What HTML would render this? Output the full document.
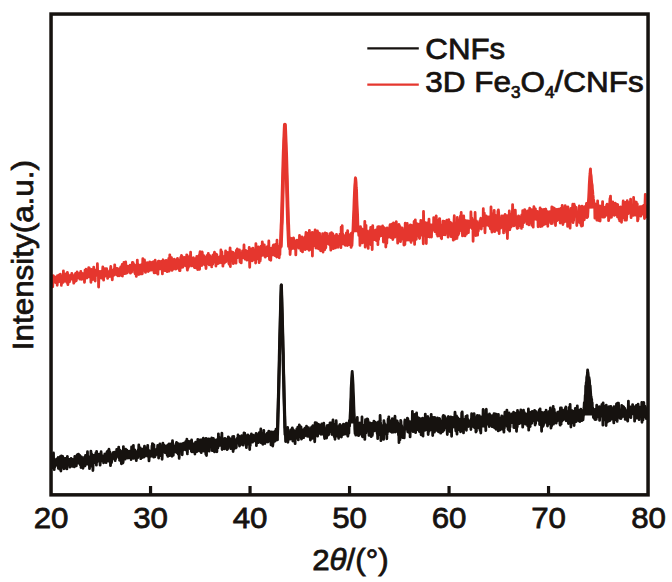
<!DOCTYPE html>
<html><head><meta charset="utf-8"><title>XRD</title>
<style>
html,body{margin:0;padding:0;background:#fff;}
body{width:672px;height:582px;overflow:hidden;}
svg{display:block;}
text{font-family:"Liberation Sans",sans-serif;fill:#16120f;stroke:#16120f;stroke-width:0.75px;}
</style></head><body>
<svg width="672" height="582" viewBox="0 0 672 582">
<rect width="672" height="582" fill="#ffffff"/>
<polyline points="280.7,247.3 280.8,245.4 280.9,243.4 281.0,241.2 281.1,238.8 281.2,236.3 281.3,233.6 281.4,230.9 281.5,227.9 281.6,224.9 281.8,221.8 281.9,218.5 282.0,215.2 282.1,211.7 282.2,208.2 282.3,204.6 282.4,201.0 282.5,197.3 282.6,193.5 282.7,189.8 282.8,186.0 282.9,182.3 283.0,178.5 283.1,174.8 283.2,171.1 283.3,167.4 283.4,163.8 283.5,160.3 283.6,156.9 283.7,153.5 283.8,150.3 284.0,147.1 284.1,144.1 284.2,141.2 284.3,138.4 284.4,135.8 284.5,133.3 284.6,130.9 284.7,128.7 284.8,126.6 284.9,124.7 285.0,126.6 285.1,128.7 285.2,130.9 285.3,133.3 285.4,135.8 285.5,138.4 285.6,141.2 285.7,144.1 285.8,147.1 285.9,150.3 286.1,153.5 286.2,156.9 286.3,160.3 286.4,163.8 286.5,167.4 286.6,171.1 286.7,174.8 286.8,178.5 286.9,182.3 287.0,186.0 287.1,189.8 287.2,193.5 287.3,197.3 287.4,201.0 287.5,204.6 287.6,208.2 287.7,211.7 287.8,215.2 287.9,218.5 288.0,221.8 288.2,224.9 288.3,227.9 288.4,230.9 288.5,233.6 288.6,236.3 288.7,238.8 288.8,241.2 288.9,243.4 289.0,245.4 289.1,247.3" fill="none" stroke="#e5362e" stroke-width="3.8" stroke-linejoin="round"/><polygon points="352.8,232.2 352.9,230.7 353.0,229.1 353.0,227.4 353.1,225.6 353.2,223.7 353.3,221.8 353.4,219.7 353.5,217.6 353.5,215.4 353.6,213.3 353.7,211.0 353.8,208.8 353.9,206.6 354.0,204.4 354.1,202.2 354.1,200.0 354.2,197.9 354.3,195.9 354.4,193.9 354.5,192.0 354.6,190.2 354.6,188.5 354.7,186.9 354.8,185.5 354.9,184.1 355.0,182.9 355.1,181.9 355.2,180.9 355.2,180.2 355.3,179.6 355.4,179.1 355.5,178.8 355.6,179.1 355.7,179.6 355.8,180.2 355.8,180.9 355.9,181.9 356.0,182.9 356.1,184.1 356.2,185.5 356.3,186.9 356.4,188.5 356.4,190.2 356.5,192.0 356.6,193.9 356.7,195.9 356.8,197.9 356.9,200.0 356.9,202.2 357.0,204.4 357.1,206.6 357.2,208.8 357.3,211.0 357.4,213.3 357.5,215.4 357.5,217.6 357.6,219.7 357.7,221.8 357.8,223.7 357.9,225.6 358.0,227.4 358.0,229.1 358.1,230.7 358.2,232.2" fill="#e5362e"/><polygon points="588.0,208.7 588.1,207.4 588.1,206.0 588.2,204.6 588.3,203.1 588.4,201.6 588.5,200.0 588.6,198.4 588.7,196.7 588.8,195.1 588.9,193.4 589.0,191.7 589.1,190.0 589.2,188.4 589.2,186.7 589.3,185.1 589.4,183.5 589.5,181.9 589.6,180.4 589.7,178.9 589.8,177.5 589.9,176.2 590.0,174.9 590.1,173.6 590.2,172.5 590.2,171.4 590.3,171.0 590.4,171.7 590.5,172.3 590.6,173.0 590.7,173.6 590.8,174.4 590.9,175.1 591.0,175.8 591.1,176.6 591.2,177.4 591.2,178.2 591.3,179.1 591.4,179.9 591.5,180.8 591.6,181.7 591.7,182.6 591.8,183.5 591.9,184.5 592.0,185.4 592.1,186.4 592.2,187.4 592.3,188.3 592.3,189.3 592.4,190.3 592.5,191.3 592.6,192.3 592.7,193.3 592.8,194.2 592.9,195.2 593.0,196.2 593.1,197.2 593.2,198.1 593.3,199.1 593.3,200.0 593.4,201.0 593.5,201.9 593.6,202.8 593.7,203.7 593.8,204.5 593.9,205.4 594.0,206.2 594.1,207.0 594.2,207.8 594.3,208.6" fill="#e5362e"/>
<path d="M52.0,278.8 L52.2,277.7 L52.5,285.4 L52.7,286.8 L53.0,281.0 L53.2,275.7 L53.5,279.5 L53.7,278.3 L54.0,281.6 L54.2,281.4 L54.5,280.3 L54.7,276.8 L55.0,280.1 L55.2,279.0 L55.5,277.6 L55.7,282.6 L56.0,278.3 L56.2,278.6 L56.5,279.3 L56.7,277.4 L57.0,276.6 L57.2,285.3 L57.5,275.6 L57.7,280.7 L58.0,279.9 L58.2,277.9 L58.4,278.8 L58.7,281.9 L58.9,278.2 L59.2,275.0 L59.4,276.6 L59.7,278.1 L59.9,274.6 L60.2,277.1 L60.4,274.1 L60.7,281.1 L60.9,279.5 L61.2,277.7 L61.4,285.4 L61.7,277.7 L61.9,279.3 L62.2,279.3 L62.4,279.2 L62.7,276.4 L62.9,280.4 L63.2,282.3 L63.4,270.9 L63.7,280.5 L63.9,275.6 L64.2,278.5 L64.4,280.9 L64.6,276.6 L64.9,281.2 L65.1,277.0 L65.4,276.7 L65.6,276.9 L65.9,273.9 L66.1,279.0 L66.4,275.5 L66.6,277.1 L66.9,282.5 L67.1,280.5 L67.4,272.4 L67.6,273.8 L67.9,284.6 L68.1,274.6 L68.4,278.5 L68.6,281.7 L68.9,277.9 L69.1,276.6 L69.4,281.9 L69.6,277.8 L69.9,275.9 L70.1,280.6 L70.4,278.6 L70.6,276.8 L70.8,275.2 L71.1,275.7 L71.3,277.6 L71.6,276.8 L71.8,273.3 L72.1,277.2 L72.3,275.6 L72.6,277.4 L72.8,278.6 L73.1,279.7 L73.3,277.5 L73.6,281.9 L73.8,283.2 L74.1,278.0 L74.3,277.3 L74.6,277.7 L74.8,274.7 L75.1,281.3 L75.3,279.3 L75.6,273.4 L75.8,280.8 L76.1,280.7 L76.3,280.5 L76.6,278.1 L76.8,273.9 L77.1,271.9 L77.3,276.5 L77.5,273.3 L77.8,274.6 L78.0,275.6 L78.3,273.4 L78.5,277.8 L78.8,274.2 L79.0,277.7 L79.3,275.8 L79.5,276.1 L79.8,279.1 L80.0,273.1 L80.3,277.5 L80.5,275.7 L80.8,271.3 L81.0,274.8 L81.3,276.7 L81.5,277.3 L81.8,279.3 L82.0,277.4 L82.3,273.3 L82.5,277.2 L82.8,278.0 L83.0,274.3 L83.3,274.1 L83.5,279.0 L83.7,278.0 L84.0,276.9 L84.2,277.0 L84.5,282.3 L84.7,277.7 L85.0,270.2 L85.2,270.9 L85.5,276.1 L85.7,274.0 L86.0,269.2 L86.2,275.5 L86.5,274.8 L86.7,277.3 L87.0,278.0 L87.2,271.7 L87.5,274.6 L87.7,273.1 L88.0,272.7 L88.2,270.2 L88.5,271.4 L88.7,267.6 L89.0,276.8 L89.2,267.9 L89.5,272.0 L89.7,276.2 L89.9,275.1 L90.2,273.2 L90.4,274.0 L90.7,273.1 L90.9,282.3 L91.2,278.3 L91.4,269.3 L91.7,275.6 L91.9,275.8 L92.2,279.7 L92.4,270.6 L92.7,273.2 L92.9,275.3 L93.2,273.4 L93.4,279.4 L93.7,267.2 L93.9,273.3 L94.2,270.3 L94.4,273.2 L94.7,277.4 L94.9,269.8 L95.2,281.0 L95.4,271.3 L95.7,276.0 L95.9,270.1 L96.1,271.7 L96.4,274.4 L96.6,274.5 L96.9,271.9 L97.1,273.3 L97.4,263.7 L97.6,270.4 L97.9,270.5 L98.1,272.3 L98.4,274.1 L98.6,287.1 L98.9,277.2 L99.1,273.7 L99.4,274.4 L99.6,273.7 L99.9,274.8 L100.1,271.4 L100.4,272.7 L100.6,277.0 L100.9,277.3 L101.1,276.4 L101.4,278.1 L101.6,271.6 L101.9,271.1 L102.1,275.9 L102.3,277.5 L102.6,270.3 L102.8,267.0 L103.1,268.7 L103.3,273.4 L103.6,280.2 L103.8,271.3 L104.1,272.9 L104.3,276.8 L104.6,271.7 L104.8,274.0 L105.1,268.7 L105.3,272.6 L105.6,273.5 L105.8,275.5 L106.1,275.2 L106.3,273.9 L106.6,268.6 L106.8,273.7 L107.1,273.4 L107.3,270.4 L107.6,278.4 L107.8,271.9 L108.1,272.8 L108.3,271.6 L108.5,275.4 L108.8,276.6 L109.0,276.6 L109.3,272.1 L109.5,273.0 L109.8,276.4 L110.0,274.3 L110.3,273.8 L110.5,268.9 L110.8,266.5 L111.0,270.9 L111.3,270.7 L111.5,275.8 L111.8,271.6 L112.0,276.7 L112.3,279.8 L112.5,271.9 L112.8,272.9 L113.0,270.9 L113.3,273.0 L113.5,269.8 L113.8,275.3 L114.0,271.1 L114.3,268.6 L114.5,272.7 L114.7,264.8 L115.0,270.5 L115.2,272.3 L115.5,272.6 L115.7,273.3 L116.0,268.1 L116.2,270.9 L116.5,274.9 L116.7,271.5 L117.0,269.6 L117.2,268.4 L117.5,273.4 L117.7,272.5 L118.0,275.8 L118.2,271.3 L118.5,271.9 L118.7,273.5 L119.0,269.0 L119.2,275.8 L119.5,268.7 L119.7,271.1 L120.0,269.4 L120.2,272.5 L120.5,268.0 L120.7,267.0 L120.9,272.5 L121.2,273.5 L121.4,267.0 L121.7,275.7 L121.9,268.4 L122.2,264.4 L122.4,276.1 L122.7,268.2 L122.9,273.5 L123.2,270.7 L123.4,270.0 L123.7,268.1 L123.9,262.5 L124.2,269.9 L124.4,266.0 L124.7,269.6 L124.9,273.6 L125.2,271.3 L125.4,269.4 L125.7,262.0 L125.9,267.3 L126.2,273.3 L126.4,272.1 L126.7,268.5 L126.9,270.6 L127.2,272.9 L127.4,269.7 L127.6,269.5 L127.9,266.2 L128.1,269.9 L128.4,271.1 L128.6,271.3 L128.9,266.8 L129.1,268.1 L129.4,269.4 L129.6,270.7 L129.9,268.6 L130.1,265.2 L130.4,273.2 L130.6,270.1 L130.9,267.2 L131.1,271.6 L131.4,271.9 L131.6,272.2 L131.9,268.2 L132.1,267.4 L132.4,262.5 L132.6,268.1 L132.9,266.1 L133.1,262.7 L133.4,268.4 L133.6,267.7 L133.8,265.6 L134.1,264.4 L134.3,265.6 L134.6,272.5 L134.8,266.7 L135.1,273.8 L135.3,269.8 L135.6,272.4 L135.8,265.7 L136.1,273.5 L136.3,276.4 L136.6,271.1 L136.8,267.5 L137.1,271.3 L137.3,260.1 L137.6,269.9 L137.8,264.5 L138.1,264.9 L138.3,271.6 L138.6,266.9 L138.8,274.5 L139.1,265.1 L139.3,268.7 L139.6,269.4 L139.8,271.3 L140.0,265.4 L140.3,273.8 L140.5,270.8 L140.8,271.3 L141.0,264.9 L141.3,267.2 L141.5,273.4 L141.8,271.9 L142.0,270.1 L142.3,273.8 L142.5,269.8 L142.8,258.7 L143.0,269.6 L143.3,270.2 L143.5,268.4 L143.8,265.2 L144.0,268.0 L144.3,267.8 L144.5,260.0 L144.8,269.5 L145.0,266.2 L145.3,271.3 L145.5,272.4 L145.8,264.7 L146.0,268.5 L146.2,270.2 L146.5,266.2 L146.7,268.6 L147.0,268.6 L147.2,262.6 L147.5,267.1 L147.7,265.5 L148.0,264.0 L148.2,271.5 L148.5,263.4 L148.7,263.6 L149.0,270.6 L149.2,265.0 L149.5,268.4 L149.7,261.8 L150.0,267.0 L150.2,266.3 L150.5,269.6 L150.7,267.6 L151.0,264.8 L151.2,270.2 L151.5,269.2 L151.7,267.6 L152.0,262.3 L152.2,269.8 L152.4,269.9 L152.7,266.7 L152.9,270.0 L153.2,262.4 L153.4,261.8 L153.7,265.7 L153.9,271.5 L154.2,272.9 L154.4,267.3 L154.7,263.4 L154.9,261.6 L155.2,260.2 L155.4,268.4 L155.7,271.8 L155.9,267.6 L156.2,265.8 L156.4,272.9 L156.7,272.2 L156.9,268.3 L157.2,269.0 L157.4,268.2 L157.7,263.4 L157.9,274.1 L158.2,261.6 L158.4,261.2 L158.6,268.1 L158.9,269.3 L159.1,261.1 L159.4,261.8 L159.6,262.4 L159.9,266.9 L160.1,268.9 L160.4,265.9 L160.6,263.3 L160.9,265.1 L161.1,261.4 L161.4,268.9 L161.6,267.4 L161.9,265.2 L162.1,266.4 L162.4,273.9 L162.6,265.2 L162.9,260.6 L163.1,259.8 L163.4,265.5 L163.6,267.9 L163.9,261.9 L164.1,263.4 L164.4,261.6 L164.6,269.7 L164.8,270.6 L165.1,260.8 L165.3,265.7 L165.6,264.6 L165.8,263.4 L166.1,260.5 L166.3,267.2 L166.6,268.9 L166.8,269.1 L167.1,271.7 L167.3,261.0 L167.6,266.4 L167.8,262.6 L168.1,261.5 L168.3,264.9 L168.6,261.1 L168.8,258.3 L169.1,271.2 L169.3,266.4 L169.6,262.6 L169.8,254.9 L170.1,262.0 L170.3,262.9 L170.6,264.4 L170.8,264.8 L171.0,266.6 L171.3,269.1 L171.5,257.6 L171.8,262.9 L172.0,270.4 L172.3,262.9 L172.5,262.7 L172.8,264.2 L173.0,262.9 L173.3,269.1 L173.5,262.5 L173.8,268.1 L174.0,262.7 L174.3,259.1 L174.5,262.4 L174.8,267.3 L175.0,259.8 L175.3,265.3 L175.5,264.8 L175.8,269.1 L176.0,268.4 L176.3,262.9 L176.5,264.7 L176.8,268.5 L177.0,259.5 L177.3,263.0 L177.5,258.4 L177.7,263.2 L178.0,265.9 L178.2,264.8 L178.5,259.8 L178.7,263.8 L179.0,260.9 L179.2,267.6 L179.5,270.7 L179.7,267.3 L180.0,270.6 L180.2,264.9 L180.5,262.9 L180.7,257.3 L181.0,266.7 L181.2,260.5 L181.5,255.4 L181.7,265.2 L182.0,267.3 L182.2,256.6 L182.5,259.6 L182.7,267.2 L183.0,266.4 L183.2,262.5 L183.5,258.6 L183.7,265.5 L183.9,263.9 L184.2,265.0 L184.4,257.3 L184.7,260.9 L184.9,265.1 L185.2,263.5 L185.4,260.2 L185.7,263.9 L185.9,265.9 L186.2,262.9 L186.4,264.5 L186.7,254.8 L186.9,254.9 L187.2,268.3 L187.4,270.2 L187.7,261.7 L187.9,268.7 L188.2,256.9 L188.4,259.3 L188.7,260.4 L188.9,260.1 L189.2,266.4 L189.4,261.2 L189.7,259.8 L189.9,255.9 L190.1,258.1 L190.4,260.8 L190.6,252.2 L190.9,264.9 L191.1,264.7 L191.4,260.9 L191.6,265.2 L191.9,265.9 L192.1,263.5 L192.4,263.1 L192.6,260.3 L192.9,263.3 L193.1,257.9 L193.4,257.8 L193.6,260.6 L193.9,262.1 L194.1,262.7 L194.4,267.5 L194.6,259.4 L194.9,259.9 L195.1,263.3 L195.4,262.8 L195.6,267.8 L195.9,258.6 L196.1,264.3 L196.3,258.1 L196.6,261.6 L196.8,256.4 L197.1,260.9 L197.3,264.2 L197.6,269.5 L197.8,261.5 L198.1,260.0 L198.3,261.9 L198.6,259.9 L198.8,259.7 L199.1,255.4 L199.3,266.2 L199.6,269.3 L199.8,253.7 L200.1,251.6 L200.3,255.3 L200.6,262.6 L200.8,256.9 L201.1,259.2 L201.3,259.8 L201.6,258.3 L201.8,265.5 L202.1,251.9 L202.3,252.5 L202.5,258.2 L202.8,261.6 L203.0,257.8 L203.3,260.0 L203.5,263.4 L203.8,255.6 L204.0,258.7 L204.3,261.7 L204.5,264.6 L204.8,264.8 L205.0,259.3 L205.3,257.5 L205.5,261.2 L205.8,260.1 L206.0,268.5 L206.3,263.6 L206.5,258.8 L206.8,260.0 L207.0,255.5 L207.3,263.6 L207.5,255.4 L207.8,256.8 L208.0,263.5 L208.3,253.4 L208.5,258.8 L208.7,263.9 L209.0,261.4 L209.2,264.9 L209.5,256.4 L209.7,259.1 L210.0,255.6 L210.2,263.1 L210.5,258.6 L210.7,262.8 L211.0,261.0 L211.2,257.2 L211.5,261.0 L211.7,266.9 L212.0,258.6 L212.2,262.1 L212.5,262.5 L212.7,264.1 L213.0,254.8 L213.2,254.9 L213.5,257.7 L213.7,257.8 L214.0,257.0 L214.2,254.1 L214.5,252.2 L214.7,262.3 L214.9,257.2 L215.2,255.8 L215.4,262.2 L215.7,258.1 L215.9,266.0 L216.2,263.6 L216.4,254.1 L216.7,256.8 L216.9,254.9 L217.2,261.0 L217.4,257.0 L217.7,259.3 L217.9,263.7 L218.2,262.1 L218.4,258.1 L218.7,257.5 L218.9,257.6 L219.2,260.7 L219.4,261.1 L219.7,262.3 L219.9,262.7 L220.2,256.3 L220.4,257.9 L220.7,258.1 L220.9,250.0 L221.1,255.9 L221.4,262.5 L221.6,261.6 L221.9,251.8 L222.1,255.8 L222.4,256.7 L222.6,256.6 L222.9,266.1 L223.1,257.9 L223.4,261.9 L223.6,256.7 L223.9,262.0 L224.1,262.8 L224.4,263.0 L224.6,257.5 L224.9,262.0 L225.1,256.6 L225.4,257.6 L225.6,250.9 L225.9,261.7 L226.1,255.0 L226.4,259.0 L226.6,258.5 L226.9,255.6 L227.1,259.6 L227.4,257.2 L227.6,252.3 L227.8,253.6 L228.1,253.1 L228.3,257.1 L228.6,257.1 L228.8,263.2 L229.1,264.2 L229.3,256.0 L229.6,256.4 L229.8,254.7 L230.1,247.8 L230.3,266.6 L230.6,255.9 L230.8,260.5 L231.1,254.1 L231.3,254.5 L231.6,257.9 L231.8,252.0 L232.1,253.8 L232.3,258.4 L232.6,253.6 L232.8,259.3 L233.1,252.5 L233.3,263.6 L233.6,253.1 L233.8,254.9 L234.0,255.4 L234.3,256.8 L234.5,255.9 L234.8,257.1 L235.0,256.2 L235.3,260.2 L235.5,256.4 L235.8,258.9 L236.0,263.1 L236.3,250.4 L236.5,257.0 L236.8,254.0 L237.0,251.4 L237.3,248.9 L237.5,257.3 L237.8,257.6 L238.0,252.0 L238.3,251.3 L238.5,254.3 L238.8,257.2 L239.0,256.6 L239.3,253.7 L239.5,250.0 L239.8,258.3 L240.0,262.0 L240.2,259.8 L240.5,255.0 L240.7,258.6 L241.0,256.7 L241.2,262.9 L241.5,256.6 L241.7,256.9 L242.0,257.8 L242.2,256.3 L242.5,250.8 L242.7,256.6 L243.0,255.9 L243.2,255.5 L243.5,256.8 L243.7,257.6 L244.0,245.0 L244.2,255.0 L244.5,254.8 L244.7,255.1 L245.0,259.2 L245.2,253.8 L245.5,256.3 L245.7,250.3 L246.0,252.0 L246.2,252.6 L246.4,257.3 L246.7,254.7 L246.9,260.1 L247.2,256.4 L247.4,259.8 L247.7,251.5 L247.9,252.7 L248.2,255.8 L248.4,254.7 L248.7,252.3 L248.9,253.8 L249.2,247.3 L249.4,254.5 L249.7,267.3 L249.9,257.7 L250.2,251.8 L250.4,252.4 L250.7,254.4 L250.9,253.4 L251.2,254.6 L251.4,253.3 L251.7,248.9 L251.9,252.7 L252.2,257.5 L252.4,260.8 L252.6,254.4 L252.9,248.1 L253.1,252.6 L253.4,250.3 L253.6,254.3 L253.9,254.4 L254.1,252.5 L254.4,259.2 L254.6,252.4 L254.9,251.1 L255.1,260.2 L255.4,250.3 L255.6,263.1 L255.9,243.6 L256.1,251.1 L256.4,247.9 L256.6,253.4 L256.9,258.9 L257.1,250.8 L257.4,258.8 L257.6,249.6 L257.9,249.7 L258.1,246.9 L258.4,246.9 L258.6,251.5 L258.8,257.1 L259.1,262.7 L259.3,248.0 L259.6,256.5 L259.8,254.4 L260.1,257.0 L260.3,260.7 L260.6,249.2 L260.8,256.7 L261.1,246.2 L261.3,255.8 L261.6,255.6 L261.8,251.1 L262.1,246.6 L262.3,241.9 L262.6,245.6 L262.8,252.7 L263.1,254.3 L263.3,254.7 L263.6,248.0 L263.8,253.0 L264.1,254.1 L264.3,244.9 L264.6,255.6 L264.8,256.3 L265.0,248.9 L265.3,257.1 L265.5,256.4 L265.8,253.1 L266.0,249.7 L266.3,249.9 L266.5,247.3 L266.8,251.7 L267.0,254.1 L267.3,246.7 L267.5,255.7 L267.8,246.3 L268.0,247.6 L268.3,252.7 L268.5,253.9 L268.8,241.0 L269.0,251.8 L269.3,255.4 L269.5,259.5 L269.8,249.6 L270.0,248.5 L270.3,254.9 L270.5,248.3 L270.8,260.3 L271.0,251.2 L271.2,248.1 L271.5,248.8 L271.7,248.1 L272.0,248.0 L272.2,253.1 L272.5,252.9 L272.7,252.1 L273.0,254.9 L273.2,245.4 L273.5,246.8 L273.7,244.9 L274.0,253.1 L274.2,251.3 L274.5,251.3 L274.7,251.4 L275.0,255.6 L275.2,253.4 L275.5,244.4 L275.7,253.1 L276.0,249.5 L276.2,253.1 L276.5,246.4 L276.7,257.0 L277.0,240.2 L277.2,249.8 L277.5,250.8 L277.7,250.2 L277.9,251.2 L278.2,252.9 L278.4,256.1 L278.7,252.7 L278.9,248.2 L279.2,257.8 L279.4,246.2 L279.7,247.9 L279.9,254.6 L280.2,243.5 L280.4,248.1 L280.7,246.2 L280.9,245.3 L281.2,234.6 L281.4,227.6 L281.7,224.5 L281.9,217.4 L282.2,208.9 L282.4,200.9 L282.7,191.1 L282.9,183.4 L283.2,173.1 L283.4,165.6 L283.7,157.2 L283.9,148.1 L284.1,140.9 L284.4,136.5 L284.6,129.2 L284.9,124.7 L285.1,130.3 L285.4,135.0 L285.6,141.0 L285.9,148.1 L286.1,157.1 L286.4,162.7 L286.6,172.2 L286.9,180.9 L287.1,190.8 L287.4,198.1 L287.6,205.8 L287.9,215.9 L288.1,223.7 L288.4,231.9 L288.6,235.8 L288.9,244.0 L289.1,237.2 L289.4,242.9 L289.6,249.3 L289.9,243.0 L290.1,254.5 L290.3,250.9 L290.6,249.6 L290.8,244.0 L291.1,246.4 L291.3,238.4 L291.6,248.6 L291.8,238.8 L292.1,244.2 L292.3,245.8 L292.6,248.3 L292.8,241.5 L293.1,247.2 L293.3,241.3 L293.6,238.0 L293.8,242.1 L294.1,239.6 L294.3,247.5 L294.6,248.7 L294.8,245.1 L295.1,247.1 L295.3,242.3 L295.6,247.8 L295.8,254.9 L296.1,242.4 L296.3,246.0 L296.5,244.9 L296.8,240.7 L297.0,240.1 L297.3,245.2 L297.5,243.2 L297.8,244.2 L298.0,243.3 L298.3,243.6 L298.5,241.3 L298.8,248.2 L299.0,244.1 L299.3,246.2 L299.5,235.5 L299.8,239.2 L300.0,238.1 L300.3,246.5 L300.5,243.9 L300.8,246.1 L301.0,250.7 L301.3,246.3 L301.5,237.4 L301.8,245.5 L302.0,237.0 L302.3,239.3 L302.5,251.9 L302.7,238.3 L303.0,248.4 L303.2,239.4 L303.5,243.2 L303.7,247.1 L304.0,247.7 L304.2,243.9 L304.5,246.4 L304.7,244.4 L305.0,236.8 L305.2,249.7 L305.5,248.3 L305.7,237.1 L306.0,232.3 L306.2,242.8 L306.5,243.0 L306.7,240.5 L307.0,241.4 L307.2,248.8 L307.5,240.9 L307.7,240.2 L308.0,248.3 L308.2,237.4 L308.5,233.0 L308.7,239.8 L308.9,249.4 L309.2,250.2 L309.4,230.3 L309.7,242.2 L309.9,242.1 L310.2,246.6 L310.4,238.7 L310.7,247.6 L310.9,243.3 L311.2,239.2 L311.4,241.2 L311.7,249.8 L311.9,243.2 L312.2,232.5 L312.4,256.0 L312.7,237.9 L312.9,243.9 L313.2,245.2 L313.4,238.7 L313.7,238.4 L313.9,245.7 L314.2,234.9 L314.4,232.5 L314.7,241.5 L314.9,241.1 L315.1,229.9 L315.4,243.4 L315.6,241.4 L315.9,247.9 L316.1,248.0 L316.4,240.7 L316.6,247.9 L316.9,237.3 L317.1,242.0 L317.4,230.8 L317.6,245.8 L317.9,242.6 L318.1,232.3 L318.4,242.5 L318.6,248.9 L318.9,245.3 L319.1,247.3 L319.4,242.8 L319.6,233.5 L319.9,241.2 L320.1,243.0 L320.4,236.5 L320.6,250.8 L320.9,242.8 L321.1,237.1 L321.3,249.3 L321.6,240.2 L321.8,244.6 L322.1,249.6 L322.3,242.7 L322.6,233.6 L322.8,251.0 L323.1,252.1 L323.3,237.6 L323.6,236.0 L323.8,241.4 L324.1,245.9 L324.3,242.2 L324.6,238.6 L324.8,249.6 L325.1,232.9 L325.3,234.1 L325.6,235.9 L325.8,247.8 L326.1,240.5 L326.3,243.3 L326.6,233.3 L326.8,244.0 L327.1,238.9 L327.3,240.1 L327.6,239.5 L327.8,238.3 L328.0,236.4 L328.3,237.4 L328.5,237.6 L328.8,235.9 L329.0,237.6 L329.3,244.2 L329.5,244.6 L329.8,233.6 L330.0,238.3 L330.3,239.8 L330.5,245.5 L330.8,250.1 L331.0,242.3 L331.3,239.2 L331.5,232.7 L331.8,237.4 L332.0,246.4 L332.3,239.4 L332.5,238.1 L332.8,233.7 L333.0,241.2 L333.3,248.6 L333.5,238.9 L333.8,237.7 L334.0,239.2 L334.2,235.8 L334.5,239.0 L334.7,239.0 L335.0,240.3 L335.2,245.0 L335.5,247.9 L335.7,239.2 L336.0,243.6 L336.2,242.4 L336.5,234.4 L336.7,243.0 L337.0,235.9 L337.2,244.7 L337.5,241.6 L337.7,238.6 L338.0,247.3 L338.2,236.5 L338.5,238.9 L338.7,241.7 L339.0,242.2 L339.2,244.4 L339.5,239.7 L339.7,241.5 L340.0,234.1 L340.2,241.6 L340.4,234.7 L340.7,238.0 L340.9,247.7 L341.2,227.1 L341.4,234.5 L341.7,241.8 L341.9,232.1 L342.2,225.7 L342.4,243.8 L342.7,233.8 L342.9,239.4 L343.2,239.3 L343.4,234.9 L343.7,239.6 L343.9,244.1 L344.2,238.5 L344.4,240.9 L344.7,237.8 L344.9,237.1 L345.2,245.3 L345.4,242.5 L345.7,238.5 L345.9,236.4 L346.2,239.9 L346.4,232.8 L346.6,235.8 L346.9,236.4 L347.1,237.6 L347.4,245.5 L347.6,230.7 L347.9,235.0 L348.1,238.2 L348.4,234.2 L348.6,237.8 L348.9,237.8 L349.1,244.5 L349.4,240.1 L349.6,238.6 L349.9,244.8 L350.1,237.0 L350.4,240.3 L350.6,241.8 L350.9,234.3 L351.1,247.4 L351.4,233.1 L351.6,239.0 L351.9,245.5 L352.1,243.3 L352.4,236.9 L352.6,231.7 L352.8,232.9 L353.1,225.8 L353.3,220.6 L353.6,212.7 L353.8,209.3 L354.1,200.3 L354.3,195.9 L354.6,188.6 L354.8,185.2 L355.1,182.1 L355.3,178.4 L355.5,177.8 L355.8,179.3 L356.1,182.7 L356.3,187.7 L356.6,190.2 L356.8,198.2 L357.1,205.4 L357.3,208.8 L357.6,214.9 L357.8,222.1 L358.1,230.4 L358.3,231.7 L358.6,232.7 L358.8,235.4 L359.0,230.2 L359.3,233.5 L359.5,227.9 L359.8,236.8 L360.0,245.4 L360.3,234.5 L360.5,226.6 L360.8,234.1 L361.0,237.4 L361.3,231.4 L361.5,242.7 L361.8,231.7 L362.0,228.9 L362.3,240.8 L362.5,242.8 L362.8,237.2 L363.0,231.1 L363.3,239.3 L363.5,232.6 L363.8,236.8 L364.0,237.5 L364.3,235.2 L364.5,237.1 L364.8,221.3 L365.0,235.9 L365.2,247.1 L365.5,243.7 L365.7,236.0 L366.0,225.3 L366.2,237.5 L366.5,231.2 L366.7,239.1 L367.0,234.2 L367.2,230.9 L367.5,234.0 L367.7,245.3 L368.0,234.5 L368.2,248.4 L368.5,233.3 L368.7,232.7 L369.0,244.0 L369.2,235.9 L369.5,243.0 L369.7,239.7 L370.0,230.4 L370.2,240.5 L370.5,238.0 L370.7,227.3 L371.0,244.8 L371.2,233.8 L371.4,232.1 L371.7,237.8 L371.9,234.2 L372.2,249.6 L372.4,234.8 L372.7,225.7 L372.9,229.7 L373.2,238.4 L373.4,238.9 L373.7,230.2 L373.9,237.7 L374.2,239.6 L374.4,236.4 L374.7,239.3 L374.9,230.9 L375.2,231.5 L375.4,238.1 L375.7,234.1 L375.9,236.0 L376.2,240.5 L376.4,229.7 L376.7,239.3 L376.9,240.4 L377.2,232.8 L377.4,234.8 L377.7,227.0 L377.9,244.7 L378.1,229.9 L378.4,235.6 L378.6,239.5 L378.9,226.6 L379.1,234.6 L379.4,231.0 L379.6,228.3 L379.9,236.3 L380.1,235.1 L380.4,227.0 L380.6,234.7 L380.9,230.1 L381.1,228.9 L381.4,227.4 L381.6,235.5 L381.9,234.5 L382.1,227.2 L382.4,235.6 L382.6,226.0 L382.9,233.2 L383.1,229.1 L383.4,242.0 L383.6,232.1 L383.9,235.3 L384.1,227.7 L384.3,230.3 L384.6,230.6 L384.8,237.6 L385.1,229.6 L385.3,239.0 L385.6,233.9 L385.8,247.0 L386.1,237.7 L386.3,228.5 L386.6,237.2 L386.8,243.3 L387.1,227.9 L387.3,228.9 L387.6,234.9 L387.8,236.8 L388.1,233.2 L388.3,231.2 L388.6,235.6 L388.8,237.0 L389.1,231.0 L389.3,233.5 L389.6,236.1 L389.8,226.5 L390.1,224.7 L390.3,232.0 L390.5,231.8 L390.8,237.5 L391.0,233.0 L391.3,233.5 L391.5,237.7 L391.8,224.2 L392.0,232.5 L392.3,228.5 L392.5,229.2 L392.8,239.5 L393.0,235.7 L393.3,233.3 L393.5,223.0 L393.8,225.8 L394.0,233.8 L394.3,230.6 L394.5,233.2 L394.8,237.2 L395.0,231.5 L395.3,232.4 L395.5,223.4 L395.8,234.7 L396.0,227.6 L396.3,221.7 L396.5,233.2 L396.7,233.7 L397.0,235.9 L397.2,234.9 L397.5,237.0 L397.7,243.1 L398.0,233.9 L398.2,232.2 L398.5,233.4 L398.7,229.2 L399.0,224.4 L399.2,229.7 L399.5,229.5 L399.7,231.1 L400.0,226.4 L400.2,232.2 L400.5,241.6 L400.7,235.4 L401.0,236.8 L401.2,235.3 L401.5,237.5 L401.7,234.6 L402.0,228.3 L402.2,228.0 L402.5,232.2 L402.7,231.2 L402.9,239.2 L403.2,235.0 L403.4,236.0 L403.7,236.0 L403.9,245.0 L404.2,241.9 L404.4,236.0 L404.7,233.2 L404.9,244.6 L405.2,223.2 L405.4,224.4 L405.7,226.2 L405.9,240.2 L406.2,230.2 L406.4,229.9 L406.7,225.9 L406.9,240.2 L407.2,223.3 L407.4,233.8 L407.7,228.1 L407.9,236.4 L408.2,232.2 L408.4,228.8 L408.7,228.5 L408.9,232.6 L409.1,240.2 L409.4,233.0 L409.6,235.6 L409.9,225.3 L410.1,237.2 L410.4,225.0 L410.6,232.0 L410.9,231.4 L411.1,242.4 L411.4,229.0 L411.6,225.4 L411.9,234.5 L412.1,232.3 L412.4,236.1 L412.6,237.7 L412.9,240.1 L413.1,236.1 L413.4,235.1 L413.6,231.6 L413.9,233.6 L414.1,221.4 L414.4,231.8 L414.6,244.4 L414.9,232.6 L415.1,229.3 L415.3,219.8 L415.6,225.3 L415.8,236.3 L416.1,230.8 L416.3,239.3 L416.6,223.4 L416.8,235.4 L417.1,235.7 L417.3,228.0 L417.6,229.7 L417.8,235.4 L418.1,229.9 L418.3,234.0 L418.6,229.7 L418.8,224.2 L419.1,229.1 L419.3,237.3 L419.6,238.5 L419.8,227.9 L420.1,231.1 L420.3,230.4 L420.6,229.9 L420.8,220.4 L421.1,226.2 L421.3,228.8 L421.5,225.8 L421.8,232.5 L422.0,224.4 L422.3,235.5 L422.5,224.7 L422.8,230.5 L423.0,234.9 L423.3,243.8 L423.5,211.4 L423.8,225.5 L424.0,222.4 L424.3,235.4 L424.5,224.4 L424.8,228.1 L425.0,222.5 L425.3,223.9 L425.5,222.7 L425.8,235.1 L426.0,223.7 L426.3,243.5 L426.5,233.7 L426.8,229.4 L427.0,233.8 L427.3,236.1 L427.5,229.6 L427.8,222.6 L428.0,236.7 L428.2,226.5 L428.5,234.0 L428.7,231.6 L429.0,219.1 L429.2,232.8 L429.5,229.1 L429.7,237.0 L430.0,233.6 L430.2,234.8 L430.5,234.3 L430.7,225.0 L431.0,231.4 L431.2,230.3 L431.5,237.0 L431.7,226.6 L432.0,229.9 L432.2,230.4 L432.5,224.6 L432.7,228.7 L433.0,228.1 L433.2,229.5 L433.5,229.3 L433.7,217.6 L434.0,229.9 L434.2,226.3 L434.4,230.0 L434.7,228.7 L434.9,231.6 L435.2,231.5 L435.4,227.9 L435.7,227.7 L435.9,217.4 L436.2,215.9 L436.4,219.5 L436.7,219.7 L436.9,234.3 L437.2,232.1 L437.4,226.0 L437.7,236.2 L437.9,227.9 L438.2,223.4 L438.4,224.7 L438.7,225.2 L438.9,234.9 L439.2,235.6 L439.4,218.7 L439.7,218.7 L439.9,235.3 L440.2,232.0 L440.4,234.7 L440.6,233.4 L440.9,224.9 L441.1,237.9 L441.4,228.2 L441.6,238.8 L441.9,229.0 L442.1,227.3 L442.4,230.3 L442.6,232.7 L442.9,221.2 L443.1,230.0 L443.4,234.7 L443.6,222.2 L443.9,221.3 L444.1,225.9 L444.4,233.0 L444.6,231.5 L444.9,221.6 L445.1,234.9 L445.4,230.5 L445.6,225.1 L445.9,232.0 L446.1,225.7 L446.4,227.5 L446.6,230.0 L446.8,220.2 L447.1,224.6 L447.3,229.1 L447.6,225.7 L447.8,226.2 L448.1,237.1 L448.3,232.2 L448.6,225.6 L448.8,219.6 L449.1,227.9 L449.3,226.4 L449.6,227.6 L449.8,223.6 L450.1,225.4 L450.3,228.2 L450.6,222.3 L450.8,231.9 L451.1,236.6 L451.3,233.4 L451.6,231.0 L451.8,232.8 L452.1,225.8 L452.3,229.3 L452.6,223.7 L452.8,225.6 L453.0,235.6 L453.3,240.2 L453.5,227.2 L453.8,231.3 L454.0,221.6 L454.3,215.7 L454.5,227.6 L454.8,233.1 L455.0,239.0 L455.3,238.9 L455.5,222.9 L455.8,230.5 L456.0,233.9 L456.3,232.9 L456.5,226.8 L456.8,232.5 L457.0,238.4 L457.3,217.4 L457.5,221.0 L457.8,228.6 L458.0,235.1 L458.3,233.7 L458.5,226.3 L458.8,233.6 L459.0,226.8 L459.2,228.9 L459.5,222.0 L459.7,227.2 L460.0,228.3 L460.2,219.5 L460.5,215.8 L460.7,228.4 L461.0,228.0 L461.2,212.5 L461.5,231.1 L461.7,222.1 L462.0,223.1 L462.2,228.9 L462.5,235.9 L462.7,224.3 L463.0,233.1 L463.2,226.4 L463.5,228.1 L463.7,216.0 L464.0,231.9 L464.2,219.7 L464.5,220.3 L464.7,228.6 L465.0,235.9 L465.2,226.1 L465.4,220.3 L465.7,231.9 L465.9,226.2 L466.2,227.0 L466.4,234.2 L466.7,223.6 L466.9,229.2 L467.2,220.8 L467.4,225.4 L467.7,229.3 L467.9,226.7 L468.2,221.0 L468.4,232.7 L468.7,225.8 L468.9,221.5 L469.2,223.0 L469.4,222.4 L469.7,223.4 L469.9,225.3 L470.2,223.0 L470.4,226.2 L470.7,227.4 L470.9,211.9 L471.2,218.7 L471.4,224.8 L471.6,224.3 L471.9,218.1 L472.1,223.4 L472.4,228.8 L472.6,221.4 L472.9,221.8 L473.1,241.3 L473.4,221.3 L473.6,235.8 L473.9,227.6 L474.1,220.0 L474.4,230.4 L474.6,226.0 L474.9,224.4 L475.1,212.5 L475.4,222.0 L475.6,226.4 L475.9,235.6 L476.1,222.7 L476.4,220.9 L476.6,221.5 L476.9,228.0 L477.1,226.9 L477.4,224.1 L477.6,235.2 L477.9,225.3 L478.1,223.0 L478.3,231.1 L478.6,228.7 L478.8,225.0 L479.1,223.7 L479.3,227.7 L479.6,227.4 L479.8,220.9 L480.1,227.8 L480.3,224.4 L480.6,219.0 L480.8,218.3 L481.1,221.2 L481.3,229.0 L481.6,225.0 L481.8,219.9 L482.1,224.4 L482.3,220.0 L482.6,225.6 L482.8,222.4 L483.1,221.2 L483.3,208.7 L483.6,225.1 L483.8,224.1 L484.1,223.2 L484.3,213.1 L484.5,223.4 L484.8,227.7 L485.0,232.8 L485.3,216.5 L485.5,221.9 L485.8,217.1 L486.0,218.9 L486.3,215.9 L486.5,225.1 L486.8,223.0 L487.0,217.4 L487.3,217.2 L487.5,225.1 L487.8,221.0 L488.0,219.2 L488.3,221.7 L488.5,221.2 L488.8,217.0 L489.0,217.5 L489.3,226.2 L489.5,219.7 L489.8,216.6 L490.0,221.6 L490.3,228.0 L490.5,228.8 L490.7,227.2 L491.0,206.9 L491.2,212.2 L491.5,226.0 L491.7,229.9 L492.0,232.1 L492.2,218.8 L492.5,223.1 L492.7,215.1 L493.0,229.2 L493.2,221.9 L493.5,213.7 L493.7,230.6 L494.0,230.1 L494.2,210.4 L494.5,222.1 L494.7,231.7 L495.0,227.5 L495.2,215.2 L495.5,224.5 L495.7,225.1 L496.0,224.7 L496.2,219.4 L496.5,219.0 L496.7,227.2 L496.9,224.6 L497.2,218.9 L497.4,230.4 L497.7,226.0 L497.9,211.2 L498.2,220.4 L498.4,209.9 L498.7,213.2 L498.9,225.3 L499.2,233.6 L499.4,218.0 L499.7,227.7 L499.9,227.8 L500.2,227.6 L500.4,221.3 L500.7,228.1 L500.9,227.5 L501.2,227.2 L501.4,225.7 L501.7,215.8 L501.9,217.6 L502.2,225.0 L502.4,220.0 L502.7,223.8 L502.9,219.4 L503.1,216.0 L503.4,225.1 L503.6,232.9 L503.9,224.4 L504.1,216.5 L504.4,219.8 L504.6,221.9 L504.9,215.9 L505.1,214.4 L505.4,222.2 L505.6,222.2 L505.9,227.1 L506.1,221.6 L506.4,226.7 L506.6,232.5 L506.9,222.6 L507.1,215.6 L507.4,238.5 L507.6,230.0 L507.9,218.5 L508.1,228.0 L508.4,222.4 L508.6,217.1 L508.9,226.4 L509.1,223.5 L509.3,211.0 L509.6,220.0 L509.8,229.8 L510.1,218.9 L510.3,213.9 L510.6,226.6 L510.8,223.6 L511.1,227.0 L511.3,221.5 L511.6,218.5 L511.8,219.4 L512.1,220.6 L512.3,216.7 L512.6,204.6 L512.8,209.4 L513.1,225.5 L513.3,223.2 L513.6,218.8 L513.8,225.9 L514.1,210.9 L514.3,210.6 L514.6,218.6 L514.8,224.9 L515.1,220.5 L515.3,210.1 L515.5,215.6 L515.8,216.1 L516.0,223.8 L516.3,218.7 L516.5,222.7 L516.8,226.4 L517.0,227.2 L517.3,228.5 L517.5,223.7 L517.8,219.9 L518.0,218.9 L518.3,227.9 L518.5,215.9 L518.8,226.5 L519.0,216.5 L519.3,216.6 L519.5,223.6 L519.8,217.1 L520.0,222.6 L520.3,219.5 L520.5,220.4 L520.8,225.2 L521.0,220.6 L521.3,220.8 L521.5,228.4 L521.7,214.9 L522.0,217.9 L522.2,219.0 L522.5,226.9 L522.7,210.6 L523.0,215.9 L523.2,219.5 L523.5,218.4 L523.7,216.6 L524.0,222.5 L524.2,216.6 L524.5,220.5 L524.7,209.6 L525.0,216.7 L525.2,217.6 L525.5,215.5 L525.7,211.8 L526.0,221.0 L526.2,214.5 L526.5,221.6 L526.7,220.1 L527.0,223.9 L527.2,219.6 L527.5,210.9 L527.7,221.0 L528.0,221.8 L528.2,211.1 L528.4,220.9 L528.7,213.7 L528.9,224.9 L529.2,217.7 L529.4,212.1 L529.7,208.2 L529.9,213.9 L530.2,214.8 L530.4,216.1 L530.7,222.4 L530.9,220.5 L531.2,215.5 L531.4,209.6 L531.7,221.1 L531.9,225.4 L532.2,212.8 L532.4,215.3 L532.7,211.1 L532.9,215.6 L533.2,227.2 L533.4,214.7 L533.7,216.3 L533.9,206.7 L534.2,209.4 L534.4,208.9 L534.6,219.0 L534.9,212.5 L535.1,209.5 L535.4,208.7 L535.6,213.7 L535.9,213.3 L536.1,219.3 L536.4,213.7 L536.6,214.1 L536.9,215.4 L537.1,219.0 L537.4,211.5 L537.6,215.6 L537.9,216.8 L538.1,226.8 L538.4,217.9 L538.6,225.5 L538.9,212.3 L539.1,217.3 L539.4,215.5 L539.6,215.1 L539.9,219.2 L540.1,207.9 L540.4,226.6 L540.6,218.7 L540.8,215.1 L541.1,209.1 L541.3,211.0 L541.6,218.4 L541.8,210.7 L542.1,226.2 L542.3,212.1 L542.6,219.1 L542.8,214.1 L543.1,209.6 L543.3,217.0 L543.6,224.5 L543.8,222.8 L544.1,216.9 L544.3,209.3 L544.6,219.3 L544.8,214.3 L545.1,224.0 L545.3,215.2 L545.6,209.4 L545.8,209.1 L546.1,215.7 L546.3,223.6 L546.6,214.7 L546.8,219.0 L547.0,214.0 L547.3,218.8 L547.5,211.7 L547.8,226.3 L548.0,212.3 L548.3,223.3 L548.5,218.2 L548.8,220.9 L549.0,218.4 L549.3,216.5 L549.5,218.7 L549.8,211.7 L550.0,216.4 L550.3,221.2 L550.5,213.7 L550.8,219.7 L551.0,216.5 L551.3,223.6 L551.5,222.1 L551.8,207.0 L552.0,217.1 L552.3,216.9 L552.5,223.4 L552.8,207.5 L553.0,210.3 L553.2,218.8 L553.5,214.3 L553.7,207.8 L554.0,211.0 L554.2,208.2 L554.5,208.6 L554.7,217.4 L555.0,214.8 L555.2,216.5 L555.5,225.5 L555.7,218.2 L556.0,216.6 L556.2,211.6 L556.5,214.4 L556.7,209.5 L557.0,220.6 L557.2,214.0 L557.5,214.7 L557.7,211.4 L558.0,215.4 L558.2,212.6 L558.5,209.1 L558.7,219.5 L559.0,212.7 L559.2,217.4 L559.4,219.0 L559.7,210.3 L559.9,211.2 L560.2,223.0 L560.4,213.1 L560.7,208.4 L560.9,211.9 L561.2,222.1 L561.4,216.3 L561.7,210.7 L561.9,218.2 L562.2,205.3 L562.4,211.6 L562.7,218.1 L562.9,224.5 L563.2,215.3 L563.4,207.6 L563.7,216.2 L563.9,222.2 L564.2,216.6 L564.4,218.1 L564.7,215.5 L564.9,219.9 L565.2,205.6 L565.4,210.1 L565.6,221.4 L565.9,213.8 L566.1,207.3 L566.4,221.3 L566.6,215.1 L566.9,215.2 L567.1,208.4 L567.4,210.3 L567.6,226.4 L567.9,206.8 L568.1,211.6 L568.4,215.2 L568.6,215.8 L568.9,210.7 L569.1,221.6 L569.4,214.7 L569.6,216.2 L569.9,223.4 L570.1,228.2 L570.4,216.8 L570.6,217.3 L570.9,208.3 L571.1,215.5 L571.4,210.9 L571.6,211.4 L571.8,214.2 L572.1,210.2 L572.3,214.1 L572.6,206.5 L572.8,204.2 L573.1,222.7 L573.3,212.7 L573.6,220.8 L573.8,214.2 L574.1,204.2 L574.3,216.3 L574.6,205.6 L574.8,212.1 L575.1,211.4 L575.3,209.2 L575.6,215.1 L575.8,215.0 L576.1,207.3 L576.3,212.8 L576.6,218.4 L576.8,225.5 L577.1,214.7 L577.3,212.8 L577.6,220.4 L577.8,211.9 L578.1,220.0 L578.3,216.8 L578.5,218.4 L578.8,212.4 L579.0,211.3 L579.3,206.0 L579.5,222.5 L579.8,219.9 L580.0,213.9 L580.3,218.2 L580.5,209.9 L580.8,214.1 L581.0,225.0 L581.3,207.0 L581.5,226.2 L581.8,213.1 L582.0,206.2 L582.3,214.8 L582.5,225.6 L582.8,213.8 L583.0,209.5 L583.3,207.4 L583.5,213.7 L583.8,210.0 L584.0,208.3 L584.3,219.8 L584.5,206.7 L584.7,216.4 L585.0,213.2 L585.2,209.9 L585.5,216.2 L585.7,217.0 L586.0,208.1 L586.2,207.4 L586.5,203.4 L586.7,203.4 L587.0,217.7 L587.2,208.2 L587.5,217.1 L587.7,216.5 L588.0,211.5 L588.2,203.2 L588.5,199.5 L588.7,196.5 L589.0,190.5 L589.2,185.3 L589.5,180.2 L589.7,176.9 L590.0,174.0 L590.3,169.8 L590.5,168.8 L590.7,173.6 L590.9,174.6 L591.2,176.3 L591.4,179.0 L591.7,182.8 L591.9,183.7 L592.2,185.3 L592.4,188.8 L592.7,191.7 L592.9,194.7 L593.2,196.8 L593.4,198.9 L593.7,200.5 L593.9,202.9 L594.2,203.6 L594.4,203.0 L594.7,207.9 L594.9,218.1 L595.2,212.7 L595.4,210.9 L595.7,206.4 L595.9,204.4 L596.2,210.3 L596.4,204.9 L596.7,211.5 L596.9,220.1 L597.1,220.0 L597.4,219.2 L597.6,200.9 L597.9,211.7 L598.1,212.2 L598.4,210.1 L598.6,220.5 L598.9,211.4 L599.1,220.7 L599.4,209.6 L599.6,207.3 L599.9,205.8 L600.1,221.0 L600.4,211.0 L600.6,206.6 L600.9,214.2 L601.1,207.8 L601.4,206.5 L601.6,214.4 L601.9,208.4 L602.1,210.4 L602.4,206.4 L602.6,201.6 L602.9,217.2 L603.1,208.4 L603.3,206.7 L603.6,213.9 L603.8,209.8 L604.1,210.9 L604.3,217.2 L604.6,216.2 L604.8,216.7 L605.1,208.9 L605.3,207.1 L605.6,209.9 L605.8,209.0 L606.1,215.2 L606.3,215.2 L606.6,205.1 L606.8,210.8 L607.1,204.1 L607.3,205.7 L607.6,210.4 L607.8,206.9 L608.1,213.1 L608.3,207.7 L608.6,220.7 L608.8,208.4 L609.1,218.7 L609.3,218.2 L609.5,209.4 L609.8,201.5 L610.0,198.3 L610.3,206.8 L610.5,196.1 L610.8,208.3 L611.0,206.2 L611.3,207.4 L611.5,217.3 L611.8,205.4 L612.0,213.9 L612.3,208.2 L612.5,209.3 L612.8,202.0 L613.0,207.8 L613.3,206.6 L613.5,211.4 L613.8,209.5 L614.0,212.6 L614.3,215.3 L614.5,212.7 L614.8,203.4 L615.0,214.9 L615.3,203.2 L615.5,204.7 L615.7,207.8 L616.0,208.6 L616.2,211.1 L616.5,208.9 L616.7,210.0 L617.0,211.4 L617.2,204.3 L617.5,216.9 L617.7,204.6 L618.0,209.3 L618.2,210.2 L618.5,211.8 L618.7,207.3 L619.0,219.0 L619.2,207.4 L619.5,210.1 L619.7,220.9 L620.0,213.2 L620.2,214.9 L620.5,208.1 L620.7,206.8 L621.0,213.9 L621.2,214.0 L621.5,222.3 L621.7,213.9 L621.9,215.6 L622.2,215.0 L622.4,208.5 L622.7,214.0 L622.9,208.0 L623.2,201.0 L623.4,208.7 L623.7,208.5 L623.9,209.0 L624.2,218.1 L624.4,205.7 L624.7,210.3 L624.9,220.2 L625.2,206.6 L625.4,202.3 L625.7,212.9 L625.9,209.0 L626.2,216.0 L626.4,220.0 L626.7,216.9 L626.9,213.0 L627.2,200.7 L627.4,205.5 L627.7,205.3 L627.9,206.9 L628.2,213.7 L628.4,210.5 L628.6,210.8 L628.9,210.9 L629.1,209.4 L629.4,208.5 L629.6,211.8 L629.9,202.0 L630.1,212.3 L630.4,211.8 L630.6,199.2 L630.9,212.6 L631.1,217.7 L631.4,207.7 L631.6,206.1 L631.9,212.0 L632.1,215.2 L632.4,208.2 L632.6,209.2 L632.9,206.8 L633.1,209.3 L633.4,215.4 L633.6,197.5 L633.9,206.4 L634.1,208.4 L634.4,201.3 L634.6,209.0 L634.8,207.2 L635.1,209.2 L635.3,206.4 L635.6,215.2 L635.8,213.7 L636.1,206.5 L636.3,202.1 L636.6,207.9 L636.8,206.3 L637.1,214.6 L637.3,204.0 L637.6,220.9 L637.8,210.8 L638.1,219.5 L638.3,211.4 L638.6,207.5 L638.8,214.8 L639.1,211.5 L639.3,208.7 L639.6,211.3 L639.8,208.1 L640.1,206.7 L640.3,207.5 L640.6,212.2 L640.8,216.2 L641.0,214.9 L641.3,207.5 L641.5,211.5 L641.8,209.5 L642.0,211.4 L642.3,212.9 L642.5,206.2 L642.8,206.1 L643.0,210.8 L643.3,214.1 L643.5,211.4 L643.8,211.6 L644.0,205.2 L644.3,213.6 L644.5,218.5 L644.8,212.0 L645.0,204.9 L645.3,194.4 L645.5,208.8 L645.8,211.0 L646.0,216.9 L646.3,215.5 L646.5,213.3 L646.8,206.1 L647.0,208.8" fill="none" stroke="#e5362e" stroke-width="2.8" stroke-linejoin="round" stroke-linecap="round"/>
<polyline points="277.4,435.3 277.5,432.1 277.6,428.8 277.7,425.4 277.8,422.0 277.9,418.5 278.0,414.9 278.1,411.3 278.2,407.6 278.3,403.9 278.4,400.1 278.5,396.2 278.6,392.3 278.7,388.4 278.8,384.4 278.9,380.5 279.0,376.4 279.1,372.4 279.2,368.3 279.3,364.2 279.4,360.2 279.4,356.1 279.5,352.0 279.6,347.9 279.7,343.9 279.8,339.9 279.9,335.9 280.0,331.9 280.1,328.0 280.2,324.1 280.3,320.2 280.4,316.5 280.5,312.7 280.6,309.0 280.7,305.4 280.8,301.8 280.9,298.3 281.0,294.9 281.1,291.5 281.2,288.2 281.3,285.0 281.4,288.2 281.5,291.5 281.6,294.9 281.7,298.3 281.8,301.8 281.9,305.4 282.0,309.0 282.1,312.7 282.2,316.5 282.3,320.2 282.4,324.1 282.5,328.0 282.6,331.9 282.7,335.9 282.8,339.9 282.9,343.9 283.0,347.9 283.1,352.0 283.2,356.1 283.2,360.2 283.3,364.2 283.4,368.3 283.5,372.4 283.6,376.4 283.7,380.5 283.8,384.4 283.9,388.4 284.0,392.3 284.1,396.2 284.2,400.1 284.3,403.9 284.4,407.6 284.5,411.3 284.6,414.9 284.7,418.5 284.8,422.0 284.9,425.4 285.0,428.8 285.1,432.1 285.2,435.3" fill="none" stroke="#16120f" stroke-width="3.2" stroke-linejoin="round"/><polygon points="349.8,423.6 349.9,422.2 349.9,420.6 350.0,419.0 350.1,417.3 350.2,415.5 350.2,413.6 350.3,411.7 350.4,409.7 350.5,407.6 350.6,405.6 350.6,403.5 350.7,401.4 350.8,399.3 350.8,397.2 350.9,395.1 351.0,393.0 351.1,391.0 351.1,389.1 351.2,387.2 351.3,385.4 351.4,383.7 351.4,382.1 351.5,380.6 351.6,379.1 351.7,377.8 351.8,376.7 351.8,375.6 351.9,374.7 352.0,373.9 352.1,373.3 352.1,372.8 352.2,372.4 352.3,372.8 352.3,373.3 352.4,373.9 352.5,374.7 352.6,375.6 352.6,376.7 352.7,377.8 352.8,379.1 352.9,380.6 352.9,382.1 353.0,383.7 353.1,385.4 353.2,387.2 353.2,389.1 353.3,391.0 353.4,393.0 353.5,395.1 353.6,397.2 353.6,399.3 353.7,401.4 353.8,403.5 353.8,405.6 353.9,407.6 354.0,409.7 354.1,411.7 354.1,413.6 354.2,415.5 354.3,417.3 354.4,419.0 354.4,420.6 354.5,422.2 354.6,423.6" fill="#16120f"/><polygon points="583.4,415.6 583.5,414.8 583.7,413.8 583.8,412.8 583.9,411.7 584.0,410.5 584.2,409.2 584.3,407.8 584.4,406.4 584.6,405.0 584.7,403.4 584.8,401.9 585.0,400.3 585.1,398.6 585.2,397.0 585.4,395.3 585.5,393.6 585.6,391.9 585.7,390.2 585.9,388.5 586.0,386.9 586.1,385.2 586.3,383.7 586.4,382.1 586.5,380.6 586.6,379.2 586.8,377.9 586.9,376.6 587.0,375.3 587.2,374.2 587.3,373.1 587.4,372.2 587.6,371.3 587.7,371.4 587.8,372.0 588.0,372.7 588.1,373.3 588.2,374.1 588.3,374.8 588.5,375.6 588.6,376.4 588.7,377.3 588.9,378.2 589.0,379.1 589.1,380.1 589.2,381.1 589.4,382.1 589.5,383.1 589.6,384.2 589.8,385.2 589.9,386.3 590.0,387.5 590.2,388.6 590.3,389.7 590.4,390.8 590.6,392.0 590.7,393.1 590.8,394.3 590.9,395.4 591.1,396.6 591.2,397.7 591.3,398.8 591.5,400.0 591.6,401.1 591.7,402.1 591.9,403.2 592.0,404.2 592.1,405.3 592.2,406.2 592.4,407.2 592.5,408.2 592.6,409.1 592.8,409.9 592.9,410.8 593.0,411.6 593.2,412.3 593.3,413.1 593.4,413.8 593.5,414.4 593.7,415.1 593.8,415.6" fill="#16120f"/>
<path d="M52.0,466.6 L52.2,457.5 L52.5,465.9 L52.7,467.9 L53.0,465.2 L53.2,465.4 L53.5,453.0 L53.7,464.7 L54.0,463.4 L54.2,469.6 L54.5,464.3 L54.7,460.3 L55.0,466.8 L55.2,460.5 L55.5,461.0 L55.7,461.1 L56.0,463.2 L56.2,459.4 L56.5,459.1 L56.7,465.0 L57.0,464.8 L57.2,463.2 L57.5,462.2 L57.7,461.7 L58.0,461.4 L58.2,457.5 L58.4,468.4 L58.7,465.3 L58.9,465.1 L59.2,465.0 L59.4,459.8 L59.7,469.2 L59.9,464.2 L60.2,464.4 L60.4,456.4 L60.7,462.9 L60.9,471.0 L61.2,465.3 L61.4,456.0 L61.7,466.4 L61.9,460.9 L62.2,465.8 L62.4,456.6 L62.7,456.5 L62.9,460.7 L63.2,459.5 L63.4,463.4 L63.7,463.3 L63.9,468.8 L64.2,460.8 L64.4,466.6 L64.6,463.6 L64.9,458.4 L65.1,465.2 L65.4,468.2 L65.6,460.5 L65.9,458.4 L66.1,466.9 L66.4,458.9 L66.6,465.6 L66.9,468.9 L67.1,461.7 L67.4,456.3 L67.6,463.6 L67.9,462.1 L68.1,463.0 L68.4,463.9 L68.6,462.8 L68.9,463.7 L69.1,462.7 L69.4,459.4 L69.6,463.7 L69.9,467.1 L70.1,459.6 L70.4,463.9 L70.6,462.9 L70.8,463.2 L71.1,458.5 L71.3,462.3 L71.6,461.6 L71.8,464.7 L72.1,465.7 L72.3,466.3 L72.6,459.7 L72.8,463.7 L73.1,460.7 L73.3,460.6 L73.6,463.2 L73.8,459.5 L74.1,465.5 L74.3,466.9 L74.6,465.8 L74.8,456.3 L75.1,460.5 L75.3,459.7 L75.6,460.5 L75.8,462.3 L76.1,460.9 L76.3,465.9 L76.6,460.3 L76.8,463.0 L77.1,454.9 L77.3,462.2 L77.5,459.8 L77.8,463.2 L78.0,459.7 L78.3,457.1 L78.5,454.1 L78.8,459.8 L79.0,462.3 L79.3,463.3 L79.5,461.8 L79.8,455.3 L80.0,463.6 L80.3,464.8 L80.5,460.6 L80.8,458.5 L81.0,467.5 L81.3,463.3 L81.5,456.8 L81.8,458.8 L82.0,458.6 L82.3,463.7 L82.5,461.1 L82.8,460.6 L83.0,468.3 L83.3,459.1 L83.5,460.5 L83.7,464.7 L84.0,463.0 L84.2,466.2 L84.5,457.1 L84.7,461.1 L85.0,465.9 L85.2,461.6 L85.5,455.3 L85.7,463.8 L86.0,456.4 L86.2,457.6 L86.5,464.1 L86.7,463.3 L87.0,458.7 L87.2,459.7 L87.5,451.7 L87.7,464.2 L88.0,456.9 L88.2,461.8 L88.5,462.4 L88.7,461.1 L89.0,464.1 L89.2,457.1 L89.5,468.7 L89.7,457.3 L89.9,458.5 L90.2,458.4 L90.4,460.5 L90.7,465.3 L90.9,451.2 L91.2,453.7 L91.4,460.0 L91.7,459.1 L91.9,454.4 L92.2,466.6 L92.4,456.1 L92.7,457.9 L92.9,470.5 L93.2,462.6 L93.4,462.0 L93.7,463.0 L93.9,461.2 L94.2,458.3 L94.4,455.1 L94.7,460.4 L94.9,456.6 L95.2,458.7 L95.4,460.3 L95.7,460.0 L95.9,452.9 L96.1,455.7 L96.4,465.2 L96.6,451.4 L96.9,456.8 L97.1,462.1 L97.4,459.2 L97.6,458.7 L97.9,458.1 L98.1,457.0 L98.4,459.8 L98.6,455.9 L98.9,456.1 L99.1,454.1 L99.4,456.6 L99.6,461.2 L99.9,458.1 L100.1,465.2 L100.4,460.8 L100.6,459.8 L100.9,457.4 L101.1,451.7 L101.4,458.4 L101.6,455.8 L101.9,460.5 L102.1,460.8 L102.3,458.8 L102.6,456.0 L102.8,457.7 L103.1,461.6 L103.3,459.9 L103.6,462.8 L103.8,457.7 L104.1,456.9 L104.3,459.8 L104.6,460.4 L104.8,454.0 L105.1,455.4 L105.3,460.6 L105.6,459.6 L105.8,453.7 L106.1,462.7 L106.3,453.9 L106.6,459.3 L106.8,455.1 L107.1,451.6 L107.3,460.1 L107.6,454.9 L107.8,451.3 L108.1,450.8 L108.3,461.0 L108.5,460.6 L108.8,450.7 L109.0,449.2 L109.3,454.9 L109.5,456.4 L109.8,451.7 L110.0,456.5 L110.3,456.9 L110.5,465.7 L110.8,461.0 L111.0,461.6 L111.3,455.0 L111.5,462.7 L111.8,460.0 L112.0,455.1 L112.3,457.6 L112.5,459.0 L112.8,455.9 L113.0,452.7 L113.3,456.1 L113.5,456.5 L113.8,456.2 L114.0,453.3 L114.3,456.0 L114.5,452.2 L114.7,456.8 L115.0,455.5 L115.2,460.7 L115.5,454.9 L115.7,458.9 L116.0,456.7 L116.2,454.3 L116.5,456.1 L116.7,449.3 L117.0,452.4 L117.2,452.0 L117.5,452.1 L117.7,456.3 L118.0,450.0 L118.2,453.7 L118.5,454.7 L118.7,447.1 L119.0,457.9 L119.2,450.4 L119.5,460.3 L119.7,449.9 L120.0,451.1 L120.2,457.1 L120.5,457.9 L120.7,452.3 L120.9,455.9 L121.2,460.0 L121.4,463.8 L121.7,454.1 L121.9,457.0 L122.2,455.3 L122.4,451.4 L122.7,450.6 L122.9,463.0 L123.2,461.7 L123.4,446.6 L123.7,456.8 L123.9,457.8 L124.2,457.3 L124.4,454.9 L124.7,450.5 L124.9,451.3 L125.2,459.1 L125.4,450.1 L125.7,449.1 L125.9,451.2 L126.2,454.4 L126.4,452.1 L126.7,450.8 L126.9,450.2 L127.2,457.8 L127.4,458.0 L127.6,452.0 L127.9,458.1 L128.1,457.4 L128.4,452.5 L128.6,451.7 L128.9,456.5 L129.1,457.0 L129.4,451.1 L129.6,452.0 L129.9,457.6 L130.1,453.2 L130.4,455.9 L130.6,457.4 L130.9,457.4 L131.1,459.5 L131.4,454.9 L131.6,446.8 L131.9,454.4 L132.1,457.4 L132.4,456.4 L132.6,456.7 L132.9,453.4 L133.1,456.6 L133.4,445.5 L133.6,458.4 L133.8,454.9 L134.1,455.2 L134.3,454.0 L134.6,450.6 L134.8,449.9 L135.1,455.7 L135.3,450.9 L135.6,452.5 L135.8,458.5 L136.1,453.7 L136.3,460.7 L136.6,452.0 L136.8,456.9 L137.1,454.2 L137.3,457.4 L137.6,457.9 L137.8,452.5 L138.1,453.8 L138.3,449.6 L138.6,451.3 L138.8,445.0 L139.1,449.9 L139.3,453.9 L139.6,456.0 L139.8,451.7 L140.0,455.5 L140.3,447.8 L140.5,456.4 L140.8,458.7 L141.0,455.4 L141.3,452.1 L141.5,454.1 L141.8,450.0 L142.0,457.7 L142.3,449.4 L142.5,450.7 L142.8,453.0 L143.0,449.6 L143.3,450.1 L143.5,448.6 L143.8,457.2 L144.0,450.7 L144.3,448.5 L144.5,446.1 L144.8,449.6 L145.0,456.2 L145.3,451.9 L145.5,448.7 L145.8,450.8 L146.0,453.3 L146.2,453.7 L146.5,450.3 L146.7,454.8 L147.0,451.5 L147.2,447.5 L147.5,456.2 L147.7,445.4 L148.0,451.1 L148.2,453.2 L148.5,449.8 L148.7,453.1 L149.0,460.9 L149.2,457.6 L149.5,450.9 L149.7,454.6 L150.0,454.5 L150.2,453.6 L150.5,456.3 L150.7,454.7 L151.0,452.6 L151.2,452.3 L151.5,452.6 L151.7,452.3 L152.0,445.8 L152.2,456.2 L152.4,443.6 L152.7,452.5 L152.9,452.3 L153.2,451.6 L153.4,446.9 L153.7,457.2 L153.9,444.8 L154.2,456.5 L154.4,450.4 L154.7,452.0 L154.9,456.8 L155.2,451.0 L155.4,455.7 L155.7,451.5 L155.9,449.6 L156.2,451.3 L156.4,454.4 L156.7,450.9 L156.9,449.6 L157.2,450.3 L157.4,449.3 L157.7,445.4 L157.9,448.4 L158.2,446.2 L158.4,446.6 L158.6,458.1 L158.9,452.5 L159.1,455.1 L159.4,450.1 L159.6,450.0 L159.9,443.9 L160.1,449.6 L160.4,452.2 L160.6,450.5 L160.9,450.8 L161.1,455.8 L161.4,453.8 L161.6,452.6 L161.9,448.8 L162.1,459.3 L162.4,452.3 L162.6,447.2 L162.9,443.2 L163.1,444.7 L163.4,447.3 L163.6,449.5 L163.9,444.9 L164.1,449.5 L164.4,449.9 L164.6,449.5 L164.8,445.8 L165.1,452.6 L165.3,447.5 L165.6,450.4 L165.8,446.3 L166.1,449.5 L166.3,445.9 L166.6,450.7 L166.8,452.3 L167.1,454.8 L167.3,450.4 L167.6,453.8 L167.8,456.4 L168.1,444.8 L168.3,444.7 L168.6,448.7 L168.8,452.5 L169.1,444.0 L169.3,445.5 L169.6,455.6 L169.8,450.7 L170.1,446.5 L170.3,452.0 L170.6,449.4 L170.8,447.4 L171.0,443.8 L171.3,451.8 L171.5,454.7 L171.8,443.4 L172.0,456.3 L172.3,447.5 L172.5,440.7 L172.8,447.0 L173.0,443.8 L173.3,455.3 L173.5,447.0 L173.8,452.0 L174.0,445.9 L174.3,451.5 L174.5,450.8 L174.8,448.9 L175.0,451.7 L175.3,451.9 L175.5,447.1 L175.8,451.8 L176.0,451.3 L176.3,443.8 L176.5,442.4 L176.8,443.8 L177.0,449.3 L177.3,452.9 L177.5,443.6 L177.7,445.0 L178.0,448.3 L178.2,454.2 L178.5,443.7 L178.7,445.6 L179.0,447.7 L179.2,458.4 L179.5,444.3 L179.7,448.7 L180.0,447.9 L180.2,446.6 L180.5,450.3 L180.7,449.9 L181.0,444.0 L181.2,448.0 L181.5,445.8 L181.7,448.6 L182.0,444.8 L182.2,454.8 L182.5,447.0 L182.7,448.1 L183.0,450.2 L183.2,443.3 L183.5,445.0 L183.7,444.1 L183.9,446.4 L184.2,446.8 L184.4,445.4 L184.7,442.7 L184.9,444.0 L185.2,445.7 L185.4,449.8 L185.7,448.6 L185.9,441.4 L186.2,447.2 L186.4,443.8 L186.7,441.8 L186.9,439.1 L187.2,451.4 L187.4,453.9 L187.7,440.9 L187.9,441.1 L188.2,445.4 L188.4,445.9 L188.7,445.7 L188.9,443.3 L189.2,443.3 L189.4,444.3 L189.7,446.3 L189.9,446.5 L190.1,448.5 L190.4,441.2 L190.6,447.3 L190.9,445.6 L191.1,445.8 L191.4,451.3 L191.6,440.0 L191.9,445.1 L192.1,451.9 L192.4,448.7 L192.6,448.0 L192.9,445.9 L193.1,451.6 L193.4,446.0 L193.6,443.9 L193.9,444.0 L194.1,444.4 L194.4,447.4 L194.6,450.3 L194.9,454.0 L195.1,449.9 L195.4,444.2 L195.6,442.1 L195.9,442.9 L196.1,447.5 L196.3,445.4 L196.6,443.2 L196.8,451.6 L197.1,444.8 L197.3,443.4 L197.6,444.3 L197.8,439.3 L198.1,447.6 L198.3,443.4 L198.6,441.8 L198.8,444.1 L199.1,450.2 L199.3,451.0 L199.6,442.7 L199.8,444.7 L200.1,439.8 L200.3,445.5 L200.6,450.3 L200.8,445.5 L201.1,439.9 L201.3,452.7 L201.6,449.6 L201.8,447.9 L202.1,445.8 L202.3,447.0 L202.5,447.5 L202.8,441.8 L203.0,439.2 L203.3,438.2 L203.5,447.6 L203.8,444.7 L204.0,451.1 L204.3,447.9 L204.5,443.5 L204.8,442.0 L205.0,447.0 L205.3,442.1 L205.5,441.4 L205.8,454.3 L206.0,438.3 L206.3,447.6 L206.5,455.5 L206.8,441.4 L207.0,441.6 L207.3,445.6 L207.5,444.0 L207.8,441.3 L208.0,445.4 L208.3,438.9 L208.5,450.5 L208.7,447.5 L209.0,445.1 L209.2,451.1 L209.5,439.2 L209.7,440.2 L210.0,443.7 L210.2,443.0 L210.5,446.4 L210.7,444.5 L211.0,441.4 L211.2,441.3 L211.5,439.1 L211.7,437.9 L212.0,445.8 L212.2,450.7 L212.5,440.7 L212.7,446.5 L213.0,450.6 L213.2,442.0 L213.5,438.5 L213.7,441.5 L214.0,449.2 L214.2,446.0 L214.5,451.9 L214.7,446.0 L214.9,443.4 L215.2,442.7 L215.4,447.0 L215.7,440.8 L215.9,446.0 L216.2,439.9 L216.4,443.0 L216.7,442.0 L216.9,451.8 L217.2,441.4 L217.4,445.1 L217.7,439.5 L217.9,447.8 L218.2,443.7 L218.4,433.8 L218.7,444.9 L218.9,440.0 L219.2,445.6 L219.4,445.2 L219.7,440.3 L219.9,441.3 L220.2,437.8 L220.4,444.1 L220.7,445.3 L220.9,442.7 L221.1,440.5 L221.4,441.5 L221.6,437.6 L221.9,433.1 L222.1,449.5 L222.4,440.5 L222.6,438.3 L222.9,443.0 L223.1,448.7 L223.4,439.1 L223.6,445.4 L223.9,444.2 L224.1,442.1 L224.4,448.8 L224.6,445.9 L224.9,438.3 L225.1,445.0 L225.4,445.6 L225.6,441.8 L225.9,439.3 L226.1,439.7 L226.4,445.4 L226.6,442.6 L226.9,439.4 L227.1,449.7 L227.4,440.7 L227.6,438.7 L227.8,448.8 L228.1,442.9 L228.3,436.8 L228.6,438.1 L228.8,437.4 L229.1,437.7 L229.3,439.0 L229.6,442.8 L229.8,438.7 L230.1,440.5 L230.3,442.7 L230.6,446.6 L230.8,448.6 L231.1,448.4 L231.3,440.6 L231.6,442.1 L231.8,444.6 L232.1,438.9 L232.3,441.6 L232.6,436.6 L232.8,443.9 L233.1,451.5 L233.3,445.6 L233.6,449.6 L233.8,436.4 L234.0,448.0 L234.3,444.2 L234.5,445.1 L234.8,441.0 L235.0,439.7 L235.3,443.4 L235.5,440.2 L235.8,448.0 L236.0,445.3 L236.3,447.4 L236.5,441.5 L236.8,439.3 L237.0,438.5 L237.3,440.0 L237.5,443.0 L237.8,443.0 L238.0,435.0 L238.3,439.5 L238.5,443.2 L238.8,441.9 L239.0,436.2 L239.3,441.5 L239.5,446.0 L239.8,436.5 L240.0,442.2 L240.2,443.9 L240.5,439.6 L240.7,436.8 L241.0,444.3 L241.2,444.4 L241.5,439.1 L241.7,435.7 L242.0,438.7 L242.2,442.4 L242.5,438.9 L242.7,442.1 L243.0,437.2 L243.2,445.2 L243.5,442.2 L243.7,442.1 L244.0,432.9 L244.2,438.3 L244.5,436.4 L244.7,433.1 L245.0,438.7 L245.2,438.7 L245.5,437.9 L245.7,435.4 L246.0,442.1 L246.2,444.3 L246.4,447.6 L246.7,441.5 L246.9,444.1 L247.2,441.8 L247.4,439.5 L247.7,442.8 L247.9,435.0 L248.2,437.2 L248.4,435.7 L248.7,444.1 L248.9,438.0 L249.2,439.2 L249.4,440.2 L249.7,449.5 L249.9,436.1 L250.2,445.7 L250.4,437.3 L250.7,438.8 L250.9,439.0 L251.2,441.8 L251.4,434.0 L251.7,437.8 L251.9,440.3 L252.2,440.2 L252.4,437.3 L252.6,442.2 L252.9,436.0 L253.1,440.8 L253.4,435.2 L253.6,436.9 L253.9,437.6 L254.1,440.6 L254.4,437.1 L254.6,437.0 L254.9,440.3 L255.1,436.6 L255.4,436.9 L255.6,438.4 L255.9,441.9 L256.1,433.3 L256.4,445.7 L256.6,435.3 L256.9,435.9 L257.1,435.7 L257.4,440.6 L257.6,438.1 L257.9,434.3 L258.1,436.6 L258.4,442.6 L258.6,439.7 L258.8,439.4 L259.1,432.8 L259.3,436.4 L259.6,432.3 L259.8,439.3 L260.1,438.4 L260.3,437.9 L260.6,433.5 L260.8,429.0 L261.1,442.8 L261.3,441.5 L261.6,433.3 L261.8,436.7 L262.1,439.6 L262.3,442.0 L262.6,437.1 L262.8,444.3 L263.1,442.0 L263.3,437.1 L263.6,438.3 L263.8,430.3 L264.1,438.8 L264.3,437.7 L264.6,441.9 L264.8,434.3 L265.0,443.5 L265.3,435.4 L265.5,439.0 L265.8,440.7 L266.0,441.0 L266.3,434.9 L266.5,438.3 L266.8,438.7 L267.0,441.6 L267.3,433.1 L267.5,433.6 L267.8,442.0 L268.0,438.0 L268.3,433.8 L268.5,438.6 L268.8,431.1 L269.0,432.5 L269.3,440.1 L269.5,432.0 L269.8,439.7 L270.0,441.1 L270.3,438.9 L270.5,432.0 L270.8,432.6 L271.0,444.9 L271.2,440.8 L271.5,438.0 L271.7,431.9 L272.0,438.0 L272.2,433.7 L272.5,432.2 L272.7,446.1 L273.0,443.7 L273.2,441.5 L273.5,435.4 L273.7,438.0 L274.0,435.3 L274.2,441.5 L274.5,431.7 L274.7,433.6 L275.0,438.0 L275.2,441.0 L275.5,432.9 L275.7,436.4 L276.0,429.1 L276.2,437.6 L276.5,429.9 L276.7,431.2 L277.0,436.4 L277.2,439.8 L277.5,439.9 L277.7,424.9 L277.9,414.3 L278.2,407.1 L278.4,396.5 L278.7,387.6 L278.9,376.6 L279.2,366.9 L279.4,355.9 L279.7,347.5 L279.9,336.6 L280.2,327.2 L280.4,315.3 L280.7,308.0 L280.9,296.8 L281.2,290.0 L281.3,285.0 L281.7,297.9 L281.9,306.6 L282.2,315.4 L282.4,327.1 L282.7,335.7 L282.9,347.3 L283.2,354.6 L283.4,367.1 L283.7,376.0 L283.9,386.5 L284.1,397.3 L284.4,406.8 L284.6,413.9 L284.9,427.7 L285.1,428.4 L285.4,435.3 L285.6,441.5 L285.9,430.4 L286.1,438.5 L286.4,435.5 L286.6,438.5 L286.9,438.4 L287.1,431.3 L287.4,436.5 L287.6,427.4 L287.9,442.3 L288.1,436.7 L288.4,436.2 L288.6,438.4 L288.9,437.7 L289.1,432.2 L289.4,433.2 L289.6,433.5 L289.9,437.2 L290.1,439.2 L290.3,433.1 L290.6,429.8 L290.8,433.6 L291.1,438.4 L291.3,430.8 L291.6,436.7 L291.8,432.0 L292.1,430.8 L292.3,427.9 L292.6,430.9 L292.8,441.0 L293.1,430.1 L293.3,429.7 L293.6,435.7 L293.8,440.7 L294.1,436.3 L294.3,434.1 L294.6,430.8 L294.8,440.6 L295.1,443.7 L295.3,431.9 L295.6,434.8 L295.8,434.7 L296.1,434.4 L296.3,432.2 L296.5,436.3 L296.8,428.9 L297.0,429.9 L297.3,433.3 L297.5,438.3 L297.8,427.1 L298.0,427.1 L298.3,439.9 L298.5,429.5 L298.8,434.0 L299.0,426.8 L299.3,424.9 L299.5,432.3 L299.8,436.7 L300.0,431.0 L300.3,430.5 L300.5,437.0 L300.8,431.3 L301.0,426.8 L301.3,437.8 L301.5,439.1 L301.8,436.2 L302.0,437.9 L302.3,437.0 L302.5,431.6 L302.7,435.1 L303.0,433.7 L303.2,437.7 L303.5,429.7 L303.7,437.6 L304.0,431.4 L304.2,436.2 L304.5,428.7 L304.7,431.1 L305.0,431.0 L305.2,427.8 L305.5,435.5 L305.7,429.1 L306.0,428.6 L306.2,434.2 L306.5,426.2 L306.7,433.2 L307.0,431.8 L307.2,430.8 L307.5,436.3 L307.7,435.4 L308.0,432.7 L308.2,435.7 L308.5,427.6 L308.7,433.4 L308.9,429.2 L309.2,430.8 L309.4,431.5 L309.7,437.2 L309.9,431.2 L310.2,431.3 L310.4,440.0 L310.7,429.6 L310.9,431.6 L311.2,434.1 L311.4,427.8 L311.7,426.9 L311.9,437.5 L312.2,438.4 L312.4,426.9 L312.7,429.6 L312.9,425.7 L313.2,428.3 L313.4,435.4 L313.7,431.2 L313.9,425.6 L314.2,433.5 L314.4,432.3 L314.7,441.8 L314.9,435.6 L315.1,422.7 L315.4,435.5 L315.6,434.5 L315.9,433.7 L316.1,430.4 L316.4,422.9 L316.6,435.1 L316.9,428.7 L317.1,433.4 L317.4,430.0 L317.6,436.1 L317.9,424.2 L318.1,433.4 L318.4,432.5 L318.6,424.3 L318.9,430.8 L319.1,424.6 L319.4,429.8 L319.6,431.0 L319.9,427.9 L320.1,431.5 L320.4,433.7 L320.6,425.2 L320.9,434.3 L321.1,431.4 L321.3,427.0 L321.6,432.8 L321.8,424.0 L322.1,430.6 L322.3,434.0 L322.6,434.0 L322.8,428.7 L323.1,431.0 L323.3,431.8 L323.6,432.7 L323.8,423.2 L324.1,429.7 L324.3,434.8 L324.6,438.5 L324.8,436.1 L325.1,429.7 L325.3,431.5 L325.6,431.0 L325.8,430.8 L326.1,430.3 L326.3,430.9 L326.6,438.0 L326.8,427.6 L327.1,425.7 L327.3,432.1 L327.6,425.6 L327.8,432.4 L328.0,432.2 L328.3,435.0 L328.5,433.7 L328.8,434.4 L329.0,425.2 L329.3,426.6 L329.5,427.8 L329.8,429.1 L330.0,422.8 L330.3,427.2 L330.5,429.8 L330.8,427.3 L331.0,422.8 L331.3,432.1 L331.5,432.0 L331.8,425.6 L332.0,434.5 L332.3,429.5 L332.5,430.1 L332.8,423.7 L333.0,419.8 L333.3,431.0 L333.5,433.2 L333.8,431.0 L334.0,429.5 L334.2,436.7 L334.5,424.5 L334.7,431.7 L335.0,439.3 L335.2,426.3 L335.5,434.2 L335.7,433.1 L336.0,427.3 L336.2,420.7 L336.5,430.1 L336.7,429.7 L337.0,436.2 L337.2,429.6 L337.5,430.2 L337.7,426.6 L338.0,427.5 L338.2,431.9 L338.5,435.5 L338.7,438.4 L339.0,428.3 L339.2,431.0 L339.5,425.7 L339.7,424.7 L340.0,424.5 L340.2,435.5 L340.4,434.3 L340.7,430.9 L340.9,428.0 L341.2,427.5 L341.4,437.0 L341.7,428.2 L341.9,425.9 L342.2,429.3 L342.4,434.8 L342.7,431.1 L342.9,434.6 L343.2,432.1 L343.4,424.2 L343.7,430.9 L343.9,429.0 L344.2,432.6 L344.4,430.0 L344.7,427.6 L344.9,434.1 L345.2,428.6 L345.4,431.2 L345.7,431.2 L345.9,423.8 L346.2,429.1 L346.4,423.1 L346.6,431.8 L346.9,431.1 L347.1,428.8 L347.4,426.5 L347.6,435.4 L347.9,436.1 L348.1,434.1 L348.4,427.9 L348.6,426.2 L348.9,433.2 L349.1,422.7 L349.4,420.3 L349.6,426.1 L349.9,420.4 L350.1,415.7 L350.4,410.6 L350.6,402.0 L350.9,397.1 L351.1,388.7 L351.4,383.4 L351.6,378.6 L351.9,374.8 L352.2,371.4 L352.4,373.6 L352.6,376.0 L352.8,379.8 L353.1,384.9 L353.3,390.9 L353.6,397.4 L353.8,404.6 L354.1,412.3 L354.3,415.3 L354.6,422.2 L354.8,429.1 L355.1,433.6 L355.3,427.4 L355.6,431.3 L355.8,435.1 L356.1,427.5 L356.3,429.9 L356.6,432.7 L356.8,431.0 L357.1,434.8 L357.3,417.5 L357.6,435.1 L357.8,424.0 L358.1,433.7 L358.3,426.2 L358.6,435.6 L358.8,428.1 L359.0,428.3 L359.3,432.4 L359.5,423.2 L359.8,423.0 L360.0,434.1 L360.3,431.3 L360.5,426.5 L360.8,431.7 L361.0,431.4 L361.3,430.0 L361.5,429.7 L361.8,428.9 L362.0,417.0 L362.3,435.9 L362.5,436.8 L362.8,428.9 L363.0,428.2 L363.3,432.2 L363.5,432.4 L363.8,425.3 L364.0,429.7 L364.3,429.7 L364.5,433.1 L364.8,439.4 L365.0,432.4 L365.2,426.7 L365.5,419.6 L365.7,428.6 L366.0,432.9 L366.2,429.1 L366.5,430.6 L366.7,420.4 L367.0,423.1 L367.2,418.9 L367.5,428.3 L367.7,419.1 L368.0,420.7 L368.2,423.2 L368.5,431.7 L368.7,424.9 L369.0,435.4 L369.2,432.8 L369.5,435.1 L369.7,428.1 L370.0,422.9 L370.2,424.1 L370.5,425.4 L370.7,432.0 L371.0,427.9 L371.2,436.7 L371.4,428.7 L371.7,429.3 L371.9,423.3 L372.2,428.6 L372.4,435.4 L372.7,426.6 L372.9,427.2 L373.2,429.6 L373.4,427.8 L373.7,425.4 L373.9,421.1 L374.2,423.0 L374.4,429.8 L374.7,430.8 L374.9,430.5 L375.2,422.2 L375.4,425.2 L375.7,422.6 L375.9,422.9 L376.2,429.3 L376.4,427.2 L376.7,427.9 L376.9,426.7 L377.2,433.6 L377.4,430.7 L377.7,438.7 L377.9,429.5 L378.1,424.0 L378.4,421.8 L378.6,434.7 L378.9,432.2 L379.1,422.6 L379.4,422.3 L379.6,427.6 L379.9,427.5 L380.1,415.3 L380.4,421.9 L380.6,423.0 L380.9,440.7 L381.1,429.1 L381.4,427.0 L381.6,430.3 L381.9,429.4 L382.1,425.9 L382.4,428.3 L382.6,428.5 L382.9,436.0 L383.1,430.9 L383.4,425.0 L383.6,439.4 L383.9,420.7 L384.1,422.9 L384.3,422.7 L384.6,433.6 L384.8,429.7 L385.1,424.3 L385.3,429.5 L385.6,428.1 L385.8,430.3 L386.1,434.3 L386.3,433.2 L386.6,431.5 L386.8,438.8 L387.1,425.5 L387.3,433.9 L387.6,427.8 L387.8,430.9 L388.1,419.1 L388.3,422.0 L388.6,425.7 L388.8,416.9 L389.1,430.9 L389.3,424.9 L389.6,431.1 L389.8,422.9 L390.1,420.7 L390.3,423.1 L390.5,425.6 L390.8,422.8 L391.0,427.7 L391.3,431.8 L391.5,421.0 L391.8,432.3 L392.0,429.9 L392.3,418.6 L392.5,424.3 L392.8,429.3 L393.0,429.6 L393.3,426.5 L393.5,432.2 L393.8,431.2 L394.0,429.7 L394.3,422.2 L394.5,424.9 L394.8,418.8 L395.0,416.2 L395.3,432.0 L395.5,428.6 L395.8,431.7 L396.0,425.9 L396.3,427.3 L396.5,421.0 L396.7,421.9 L397.0,423.4 L397.2,420.9 L397.5,431.5 L397.7,422.6 L398.0,427.4 L398.2,430.4 L398.5,435.2 L398.7,428.4 L399.0,442.6 L399.2,428.0 L399.5,430.8 L399.7,430.3 L400.0,439.8 L400.2,424.0 L400.5,428.2 L400.7,420.4 L401.0,421.5 L401.2,427.6 L401.5,425.2 L401.7,426.1 L402.0,432.1 L402.2,427.9 L402.5,431.1 L402.7,437.7 L402.9,429.3 L403.2,429.4 L403.4,433.7 L403.7,432.3 L403.9,430.7 L404.2,437.9 L404.4,433.2 L404.7,421.9 L404.9,419.9 L405.2,423.4 L405.4,426.7 L405.7,429.0 L405.9,422.2 L406.2,424.6 L406.4,424.9 L406.7,426.3 L406.9,423.0 L407.2,427.5 L407.4,418.1 L407.7,431.8 L407.9,418.9 L408.2,422.1 L408.4,429.8 L408.7,432.3 L408.9,430.3 L409.1,429.8 L409.4,429.6 L409.6,431.7 L409.9,421.6 L410.1,436.9 L410.4,426.1 L410.6,422.9 L410.9,425.5 L411.1,427.0 L411.4,428.2 L411.6,424.9 L411.9,424.7 L412.1,427.5 L412.4,411.5 L412.6,423.4 L412.9,429.5 L413.1,431.6 L413.4,422.1 L413.6,419.7 L413.9,424.0 L414.1,429.8 L414.4,426.6 L414.6,421.4 L414.9,414.4 L415.1,422.9 L415.3,420.3 L415.6,432.6 L415.8,427.0 L416.1,429.7 L416.3,421.1 L416.6,413.0 L416.8,427.4 L417.1,428.7 L417.3,416.9 L417.6,422.1 L417.8,420.1 L418.1,420.8 L418.3,430.0 L418.6,420.8 L418.8,425.9 L419.1,418.1 L419.3,431.6 L419.6,427.4 L419.8,425.3 L420.1,418.7 L420.3,425.3 L420.6,426.2 L420.8,428.1 L421.1,434.8 L421.3,423.4 L421.5,420.9 L421.8,431.5 L422.0,423.7 L422.3,430.1 L422.5,418.2 L422.8,422.7 L423.0,436.1 L423.3,423.2 L423.5,428.3 L423.8,428.7 L424.0,429.1 L424.3,423.4 L424.5,418.3 L424.8,421.4 L425.0,430.3 L425.3,414.1 L425.5,421.3 L425.8,423.1 L426.0,420.1 L426.3,422.5 L426.5,429.7 L426.8,426.8 L427.0,425.3 L427.3,426.3 L427.5,416.9 L427.8,416.6 L428.0,430.3 L428.2,434.5 L428.5,427.2 L428.7,423.4 L429.0,425.1 L429.2,431.3 L429.5,422.9 L429.7,423.2 L430.0,418.4 L430.2,426.5 L430.5,429.6 L430.7,421.1 L431.0,426.9 L431.2,414.3 L431.5,428.0 L431.7,418.9 L432.0,422.3 L432.2,420.4 L432.5,427.3 L432.7,435.5 L433.0,417.5 L433.2,426.9 L433.5,425.2 L433.7,424.0 L434.0,427.6 L434.2,420.9 L434.4,432.2 L434.7,417.5 L434.9,428.5 L435.2,422.7 L435.4,426.9 L435.7,420.0 L435.9,425.5 L436.2,426.9 L436.4,430.3 L436.7,429.4 L436.9,426.5 L437.2,423.8 L437.4,418.0 L437.7,425.1 L437.9,422.2 L438.2,421.3 L438.4,431.8 L438.7,420.0 L438.9,423.8 L439.2,431.9 L439.4,418.3 L439.7,418.9 L439.9,422.5 L440.2,428.8 L440.4,427.9 L440.6,433.2 L440.9,432.9 L441.1,426.2 L441.4,421.2 L441.6,429.7 L441.9,424.8 L442.1,429.5 L442.4,421.4 L442.6,431.7 L442.9,416.5 L443.1,427.6 L443.4,415.5 L443.6,421.7 L443.9,430.3 L444.1,425.3 L444.4,416.0 L444.6,427.1 L444.9,417.0 L445.1,420.4 L445.4,418.2 L445.6,424.8 L445.9,427.9 L446.1,420.0 L446.4,424.7 L446.6,420.1 L446.8,423.8 L447.1,429.8 L447.3,434.5 L447.6,427.9 L447.8,428.1 L448.1,416.7 L448.3,416.5 L448.6,422.4 L448.8,420.5 L449.1,430.6 L449.3,423.0 L449.6,426.3 L449.8,422.2 L450.1,431.6 L450.3,428.5 L450.6,428.0 L450.8,417.0 L451.1,426.5 L451.3,420.2 L451.6,436.3 L451.8,420.6 L452.1,420.1 L452.3,423.7 L452.6,417.4 L452.8,423.1 L453.0,426.7 L453.3,427.0 L453.5,424.3 L453.8,423.3 L454.0,422.6 L454.3,424.4 L454.5,421.9 L454.8,416.4 L455.0,412.1 L455.3,415.6 L455.5,427.5 L455.8,431.0 L456.0,425.6 L456.3,425.1 L456.5,415.9 L456.8,426.4 L457.0,434.2 L457.3,420.9 L457.5,426.5 L457.8,428.9 L458.0,418.0 L458.3,424.5 L458.5,423.3 L458.8,428.4 L459.0,423.0 L459.2,421.3 L459.5,429.7 L459.7,419.3 L460.0,424.4 L460.2,423.6 L460.5,431.8 L460.7,431.6 L461.0,425.3 L461.2,424.2 L461.5,421.7 L461.7,412.9 L462.0,429.9 L462.2,411.8 L462.5,418.8 L462.7,422.8 L463.0,423.4 L463.2,423.4 L463.5,432.9 L463.7,424.7 L464.0,427.5 L464.2,419.4 L464.5,424.2 L464.7,420.1 L465.0,427.5 L465.2,419.1 L465.4,423.5 L465.7,419.6 L465.9,416.3 L466.2,426.4 L466.4,430.3 L466.7,418.4 L466.9,424.2 L467.2,415.6 L467.4,425.3 L467.7,421.1 L467.9,419.4 L468.2,421.5 L468.4,426.5 L468.7,425.8 L468.9,423.6 L469.2,420.8 L469.4,424.9 L469.7,424.8 L469.9,423.2 L470.2,424.7 L470.4,422.1 L470.7,423.0 L470.9,429.5 L471.2,419.1 L471.4,424.0 L471.6,413.7 L471.9,422.2 L472.1,422.5 L472.4,422.9 L472.6,423.1 L472.9,422.6 L473.1,423.0 L473.4,426.6 L473.6,426.7 L473.9,425.2 L474.1,413.7 L474.4,415.9 L474.6,427.8 L474.9,424.5 L475.1,420.6 L475.4,417.3 L475.6,417.3 L475.9,432.0 L476.1,423.2 L476.4,431.3 L476.6,423.1 L476.9,428.0 L477.1,421.3 L477.4,415.3 L477.6,419.7 L477.9,423.4 L478.1,424.6 L478.3,416.2 L478.6,423.8 L478.8,415.8 L479.1,428.1 L479.3,415.6 L479.6,421.1 L479.8,420.1 L480.1,430.5 L480.3,430.5 L480.6,418.4 L480.8,433.0 L481.1,420.6 L481.3,422.3 L481.6,417.0 L481.8,425.4 L482.1,418.2 L482.3,423.0 L482.6,424.1 L482.8,426.2 L483.1,409.5 L483.3,422.2 L483.6,417.1 L483.8,421.8 L484.1,425.6 L484.3,414.2 L484.5,421.6 L484.8,418.8 L485.0,426.7 L485.3,421.9 L485.5,421.9 L485.8,430.6 L486.0,409.9 L486.3,409.3 L486.5,416.1 L486.8,424.5 L487.0,416.8 L487.3,422.9 L487.5,423.1 L487.8,416.0 L488.0,421.4 L488.3,421.6 L488.5,414.7 L488.8,421.5 L489.0,416.5 L489.3,426.6 L489.5,413.9 L489.8,416.7 L490.0,424.6 L490.3,424.0 L490.5,416.6 L490.7,416.1 L491.0,419.2 L491.2,416.1 L491.5,425.1 L491.7,421.2 L492.0,415.7 L492.2,426.8 L492.5,425.5 L492.7,420.3 L493.0,424.9 L493.2,426.5 L493.5,423.3 L493.7,421.3 L494.0,413.7 L494.2,427.6 L494.5,418.9 L494.7,425.1 L495.0,423.1 L495.2,428.1 L495.5,414.0 L495.7,422.6 L496.0,429.3 L496.2,415.8 L496.5,420.7 L496.7,414.4 L496.9,422.8 L497.2,418.2 L497.4,422.7 L497.7,420.1 L497.9,420.9 L498.2,430.9 L498.4,414.3 L498.7,421.7 L498.9,426.2 L499.2,422.8 L499.4,423.8 L499.7,423.4 L499.9,430.0 L500.2,422.3 L500.4,426.9 L500.7,429.4 L500.9,421.9 L501.2,417.7 L501.4,424.2 L501.7,416.0 L501.9,428.1 L502.2,427.4 L502.4,420.6 L502.7,420.8 L502.9,416.7 L503.1,429.5 L503.4,428.3 L503.6,420.9 L503.9,432.1 L504.1,426.2 L504.4,427.9 L504.6,418.8 L504.9,412.1 L505.1,423.9 L505.4,420.8 L505.6,414.4 L505.9,419.1 L506.1,425.4 L506.4,421.3 L506.6,420.7 L506.9,410.1 L507.1,416.0 L507.4,426.7 L507.6,418.1 L507.9,417.1 L508.1,429.6 L508.4,425.2 L508.6,414.6 L508.9,421.7 L509.1,412.9 L509.3,425.6 L509.6,431.2 L509.8,424.2 L510.1,426.9 L510.3,417.9 L510.6,418.8 L510.8,417.6 L511.1,417.0 L511.3,421.2 L511.6,416.6 L511.8,414.0 L512.1,422.7 L512.3,419.7 L512.6,417.7 L512.8,415.0 L513.1,415.4 L513.3,415.0 L513.6,412.1 L513.8,427.6 L514.1,419.5 L514.3,419.5 L514.6,413.0 L514.8,423.0 L515.1,422.4 L515.3,416.7 L515.5,426.6 L515.8,428.0 L516.0,413.9 L516.3,422.6 L516.5,431.3 L516.8,426.0 L517.0,427.3 L517.3,426.1 L517.5,410.4 L517.8,421.0 L518.0,417.6 L518.3,420.9 L518.5,421.7 L518.8,416.5 L519.0,412.9 L519.3,423.7 L519.5,421.0 L519.8,412.5 L520.0,421.2 L520.3,412.6 L520.5,422.9 L520.8,410.0 L521.0,419.3 L521.3,422.5 L521.5,419.6 L521.7,417.0 L522.0,417.3 L522.2,419.0 L522.5,416.7 L522.7,427.2 L523.0,417.4 L523.2,417.3 L523.5,410.1 L523.7,418.3 L524.0,420.0 L524.2,422.6 L524.5,412.7 L524.7,418.9 L525.0,415.3 L525.2,416.6 L525.5,424.1 L525.7,416.5 L526.0,421.9 L526.2,419.3 L526.5,415.4 L526.7,419.4 L527.0,413.8 L527.2,419.9 L527.5,414.1 L527.7,426.1 L528.0,417.2 L528.2,423.8 L528.4,408.9 L528.7,430.2 L528.9,417.3 L529.2,416.4 L529.4,415.4 L529.7,412.1 L529.9,414.5 L530.2,426.5 L530.4,418.4 L530.7,423.8 L530.9,420.2 L531.2,413.0 L531.4,413.5 L531.7,412.7 L531.9,423.2 L532.2,411.5 L532.4,420.2 L532.7,418.3 L532.9,418.7 L533.2,418.4 L533.4,414.3 L533.7,420.6 L533.9,417.8 L534.2,416.5 L534.4,416.0 L534.6,410.4 L534.9,418.7 L535.1,425.0 L535.4,414.9 L535.6,423.8 L535.9,417.6 L536.1,418.7 L536.4,411.6 L536.6,420.3 L536.9,419.2 L537.1,413.1 L537.4,419.1 L537.6,418.5 L537.9,416.9 L538.1,418.1 L538.4,416.9 L538.6,415.6 L538.9,418.7 L539.1,421.2 L539.4,409.8 L539.6,424.6 L539.9,414.8 L540.1,408.9 L540.4,417.9 L540.6,416.1 L540.8,421.7 L541.1,418.9 L541.3,420.4 L541.6,431.3 L541.8,417.6 L542.1,412.4 L542.3,424.7 L542.6,419.7 L542.8,425.1 L543.1,426.3 L543.3,420.6 L543.6,422.7 L543.8,424.5 L544.1,412.7 L544.3,423.1 L544.6,417.5 L544.8,412.2 L545.1,412.2 L545.3,422.1 L545.6,419.1 L545.8,414.9 L546.1,410.1 L546.3,417.5 L546.6,412.6 L546.8,412.2 L547.0,415.7 L547.3,417.4 L547.5,426.0 L547.8,417.1 L548.0,421.6 L548.3,413.8 L548.5,412.8 L548.8,423.9 L549.0,411.4 L549.3,413.9 L549.5,412.6 L549.8,413.5 L550.0,421.8 L550.3,408.0 L550.5,418.8 L550.8,419.3 L551.0,428.1 L551.3,410.4 L551.5,426.3 L551.8,424.0 L552.0,410.7 L552.3,419.5 L552.5,423.6 L552.8,417.4 L553.0,420.3 L553.2,406.5 L553.5,424.1 L553.7,415.1 L554.0,411.5 L554.2,409.2 L554.5,414.8 L554.7,412.5 L555.0,413.7 L555.2,415.6 L555.5,415.9 L555.7,413.6 L556.0,417.6 L556.2,423.2 L556.5,420.8 L556.7,420.9 L557.0,414.2 L557.2,420.8 L557.5,418.2 L557.7,412.1 L558.0,413.9 L558.2,412.8 L558.5,415.4 L558.7,418.5 L559.0,411.9 L559.2,418.5 L559.4,418.0 L559.7,414.1 L559.9,423.7 L560.2,425.2 L560.4,407.9 L560.7,419.6 L560.9,418.1 L561.2,423.9 L561.4,407.9 L561.7,418.8 L561.9,416.2 L562.2,420.8 L562.4,412.0 L562.7,416.7 L562.9,417.3 L563.2,419.7 L563.4,419.1 L563.7,410.5 L563.9,417.2 L564.2,413.3 L564.4,417.9 L564.7,414.7 L564.9,411.4 L565.2,408.4 L565.4,413.2 L565.6,410.4 L565.9,406.9 L566.1,420.8 L566.4,410.9 L566.6,414.9 L566.9,418.1 L567.1,414.8 L567.4,412.7 L567.6,420.4 L567.9,416.6 L568.1,416.7 L568.4,423.5 L568.6,423.2 L568.9,421.7 L569.1,407.3 L569.4,418.9 L569.6,413.3 L569.9,414.9 L570.1,404.3 L570.4,414.4 L570.6,412.4 L570.9,427.0 L571.1,414.9 L571.4,415.2 L571.6,423.1 L571.8,414.3 L572.1,410.7 L572.3,412.7 L572.6,413.0 L572.8,411.9 L573.1,411.8 L573.3,420.4 L573.6,411.5 L573.8,417.1 L574.1,425.5 L574.3,415.4 L574.6,422.5 L574.8,416.8 L575.1,417.9 L575.3,408.4 L575.6,409.5 L575.8,412.2 L576.1,415.2 L576.3,421.5 L576.6,416.6 L576.8,408.3 L577.1,417.1 L577.3,405.8 L577.6,413.4 L577.8,410.2 L578.1,415.1 L578.3,416.7 L578.5,419.5 L578.8,412.2 L579.0,421.0 L579.3,410.3 L579.5,413.9 L579.8,421.5 L580.0,419.9 L580.3,417.2 L580.5,418.9 L580.8,409.2 L581.0,412.0 L581.3,410.2 L581.5,412.5 L581.8,420.7 L582.0,411.3 L582.3,416.2 L582.5,413.0 L582.8,411.5 L583.0,419.8 L583.3,416.3 L583.5,415.4 L583.8,409.7 L584.0,408.0 L584.3,402.6 L584.5,407.5 L584.7,407.0 L585.0,400.7 L585.2,395.5 L585.5,394.5 L585.7,385.9 L586.0,388.9 L586.2,382.5 L586.5,382.7 L586.7,377.5 L587.0,376.0 L587.2,375.6 L587.5,372.2 L587.6,370.0 L588.0,373.1 L588.2,373.9 L588.5,378.5 L588.7,377.6 L589.0,377.4 L589.2,378.7 L589.5,380.4 L589.7,384.6 L590.0,386.0 L590.2,385.8 L590.5,390.5 L590.7,393.6 L590.9,396.4 L591.2,396.8 L591.4,400.3 L591.7,399.1 L591.9,406.1 L592.2,402.6 L592.4,408.1 L592.7,407.7 L592.9,414.1 L593.2,411.7 L593.4,417.5 L593.7,413.9 L593.9,413.7 L594.2,416.5 L594.4,416.3 L594.7,419.2 L594.9,415.0 L595.2,419.7 L595.4,409.1 L595.7,413.1 L595.9,412.0 L596.2,419.4 L596.4,413.7 L596.7,405.2 L596.9,409.6 L597.1,413.4 L597.4,407.8 L597.6,409.4 L597.9,416.8 L598.1,409.7 L598.4,410.7 L598.6,410.6 L598.9,409.4 L599.1,415.2 L599.4,406.7 L599.6,420.4 L599.9,408.9 L600.1,407.5 L600.4,409.2 L600.6,410.0 L600.9,408.5 L601.1,410.1 L601.4,416.1 L601.6,412.8 L601.9,404.5 L602.1,411.8 L602.4,415.5 L602.6,411.4 L602.9,425.2 L603.1,402.9 L603.3,410.7 L603.6,414.0 L603.8,407.1 L604.1,414.6 L604.3,417.0 L604.6,412.3 L604.8,419.9 L605.1,419.5 L605.3,406.5 L605.6,411.9 L605.8,405.9 L606.1,425.5 L606.3,405.2 L606.6,413.4 L606.8,408.2 L607.1,422.3 L607.3,415.2 L607.6,411.8 L607.8,419.5 L608.1,415.7 L608.3,417.9 L608.6,420.6 L608.8,421.0 L609.1,406.6 L609.3,410.1 L609.5,415.3 L609.8,412.3 L610.0,420.5 L610.3,414.4 L610.5,419.6 L610.8,406.4 L611.0,413.1 L611.3,407.9 L611.5,411.6 L611.8,418.8 L612.0,418.1 L612.3,413.4 L612.5,414.1 L612.8,415.0 L613.0,418.0 L613.3,415.6 L613.5,418.1 L613.8,422.9 L614.0,406.6 L614.3,415.8 L614.5,413.6 L614.8,412.0 L615.0,417.2 L615.3,419.5 L615.5,408.0 L615.7,414.9 L616.0,413.0 L616.2,410.3 L616.5,403.8 L616.7,412.6 L617.0,418.4 L617.2,421.4 L617.5,403.1 L617.7,408.5 L618.0,410.5 L618.2,409.2 L618.5,403.1 L618.7,408.0 L619.0,411.1 L619.2,416.3 L619.5,416.6 L619.7,410.0 L620.0,418.3 L620.2,417.8 L620.5,418.3 L620.7,416.2 L621.0,418.5 L621.2,413.7 L621.5,417.6 L621.7,405.5 L621.9,410.9 L622.2,416.3 L622.4,415.6 L622.7,407.6 L622.9,406.4 L623.2,407.6 L623.4,415.5 L623.7,406.9 L623.9,416.5 L624.2,413.8 L624.4,410.7 L624.7,409.2 L624.9,408.3 L625.2,419.4 L625.4,413.3 L625.7,417.1 L625.9,415.0 L626.2,415.1 L626.4,416.2 L626.7,416.0 L626.9,417.2 L627.2,410.4 L627.4,419.8 L627.7,421.1 L627.9,413.6 L628.2,410.5 L628.4,401.1 L628.6,408.9 L628.9,408.1 L629.1,416.8 L629.4,406.8 L629.6,408.0 L629.9,415.1 L630.1,413.9 L630.4,408.1 L630.6,406.8 L630.9,417.6 L631.1,411.3 L631.4,413.7 L631.6,413.2 L631.9,412.1 L632.1,409.1 L632.4,413.9 L632.6,404.6 L632.9,411.9 L633.1,410.8 L633.4,411.8 L633.6,413.9 L633.9,406.6 L634.1,410.4 L634.4,409.3 L634.6,421.2 L634.8,410.3 L635.1,410.0 L635.3,413.5 L635.6,408.1 L635.8,412.6 L636.1,412.9 L636.3,405.3 L636.6,418.2 L636.8,407.8 L637.1,414.1 L637.3,407.1 L637.6,405.5 L637.8,409.6 L638.1,404.1 L638.3,409.1 L638.6,417.1 L638.8,415.4 L639.1,419.7 L639.3,409.4 L639.6,407.2 L639.8,413.7 L640.1,416.1 L640.3,412.6 L640.6,411.3 L640.8,416.6 L641.0,408.8 L641.3,406.6 L641.5,414.3 L641.8,402.3 L642.0,422.3 L642.3,413.7 L642.5,408.4 L642.8,411.6 L643.0,419.9 L643.3,411.3 L643.5,407.3 L643.8,402.5 L644.0,407.9 L644.3,417.0 L644.5,413.8 L644.8,406.5 L645.0,407.5 L645.3,406.3 L645.5,409.0 L645.8,413.1 L646.0,409.8 L646.3,418.6 L646.5,408.5 L646.8,410.4 L647.0,411.3" fill="none" stroke="#16120f" stroke-width="2.8" stroke-linejoin="round" stroke-linecap="round"/>
<rect x="51.05" y="14.05" width="597.0" height="480.8" fill="none" stroke="#16120f" stroke-width="3.5"/>
<rect x="148.95" y="486.0" width="3.2" height="8.5" fill="#16120f"/><rect x="248.45" y="486.0" width="3.2" height="8.5" fill="#16120f"/><rect x="347.95" y="486.0" width="3.2" height="8.5" fill="#16120f"/><rect x="447.45" y="486.0" width="3.2" height="8.5" fill="#16120f"/><rect x="546.95" y="486.0" width="3.2" height="8.5" fill="#16120f"/>
<g font-size="30.4px"><text transform="translate(51.05,527.80)  scale(1.030,1)" text-anchor="middle">20</text><text transform="translate(150.55,527.80)  scale(1.030,1)" text-anchor="middle">30</text><text transform="translate(250.05,527.80)  scale(1.030,1)" text-anchor="middle">40</text><text transform="translate(349.55,527.80)  scale(1.030,1)" text-anchor="middle">50</text><text transform="translate(449.05,527.80)  scale(1.030,1)" text-anchor="middle">60</text><text transform="translate(548.55,527.80)  scale(1.030,1)" text-anchor="middle">70</text><text transform="translate(648.55,527.80)  scale(1.030,1)" text-anchor="middle">80</text>
<text transform="translate(425.30,58.50)  scale(1.030,1)" text-anchor="start">CNFs</text>
<text transform="translate(425.20,91.50)  scale(1.037,1)" text-anchor="start">3D Fe<tspan font-size="16.5px" dy="6">3</tspan><tspan dy="-6">O</tspan><tspan font-size="16.5px" dy="6">4</tspan><tspan dy="-6">/CNFs</tspan></text>
<text transform="translate(312.20,570.20)  scale(1.030,1)" text-anchor="start">2<tspan font-style="italic">θ</tspan>/(°)</text>
<text transform="translate(32.90,350.20) rotate(-90) scale(1.033,1)" text-anchor="start">Intensity(a.u.)</text></g>
<line x1="367.3" y1="48.3" x2="418.8" y2="48.3" stroke="#16120f" stroke-width="2.2"/>
<line x1="367.3" y1="84.6" x2="418.8" y2="84.6" stroke="#e5362e" stroke-width="2.2"/>
</svg>
</body></html>
